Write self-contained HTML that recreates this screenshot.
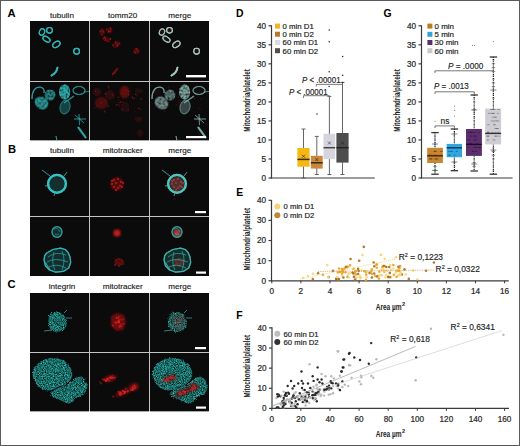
<!DOCTYPE html><html><head><meta charset="utf-8"><style>html,body{margin:0;padding:0;background:#fff;width:520px;height:446px;overflow:hidden}svg text{white-space:pre}.frame{position:absolute;left:0;top:0;width:518px;height:444px;border:1px solid #5a5a5a}</style></head><body><svg width="520" height="446" viewBox="0 0 520 446" style="display:block">
<defs>
<filter id="bl1" x="-50%" y="-50%" width="200%" height="200%"><feGaussianBlur stdDeviation="0.6"/></filter>
<filter id="bl2" x="-50%" y="-50%" width="200%" height="200%"><feGaussianBlur stdDeviation="1.2"/></filter>
<filter id="bl3" x="-50%" y="-50%" width="200%" height="200%"><feGaussianBlur stdDeviation="2"/></filter>
<filter id="tex2" x="-20%" y="-20%" width="140%" height="140%" color-interpolation-filters="sRGB"><feTurbulence type="fractalNoise" baseFrequency="0.5" numOctaves="2" seed="8" result="n"/><feColorMatrix in="n" type="matrix" values="0 0 0 0 0  0 0 0 0 0  0 0 0 0 0  1.6 0 0 0 -0.2" result="m"/><feComposite in="SourceGraphic" in2="m" operator="in"/></filter>
<filter id="disp" x="-10%" y="-10%" width="120%" height="120%" color-interpolation-filters="sRGB"><feTurbulence type="fractalNoise" baseFrequency="1.1" numOctaves="2" seed="4" result="n"/><feDisplacementMap in="SourceGraphic" in2="n" scale="3.5" xChannelSelector="R" yChannelSelector="G"/></filter>
<filter id="glow" x="-50%" y="-50%" width="200%" height="200%"><feGaussianBlur stdDeviation="0.7" result="b"/><feMerge><feMergeNode in="b"/><feMergeNode in="SourceGraphic"/></feMerge></filter>
<filter id="tex" x="-10%" y="-10%" width="120%" height="120%" color-interpolation-filters="sRGB"><feTurbulence type="fractalNoise" baseFrequency="1.1" numOctaves="2" seed="4" result="n"/><feDisplacementMap in="SourceGraphic" in2="n" scale="3.5" xChannelSelector="R" yChannelSelector="G" result="d"/><feColorMatrix in="n" type="matrix" values="0.32 0 0 0 -0.06  1.18 0 0 0 -0.17  1.14 0 0 0 -0.17  0 0 0 0 1" result="c"/><feComposite in="c" in2="d" operator="in"/></filter>
<clipPath id="c000"><rect x="30" y="21" width="59" height="60"/></clipPath>
<clipPath id="c001"><rect x="90" y="21" width="59" height="60"/></clipPath>
<clipPath id="c002"><rect x="150" y="21" width="59" height="60"/></clipPath>
<clipPath id="c010"><rect x="30" y="82" width="59" height="58.3"/></clipPath>
<clipPath id="c011"><rect x="90" y="82" width="59" height="58.3"/></clipPath>
<clipPath id="c012"><rect x="150" y="82" width="59" height="58.3"/></clipPath>
<clipPath id="c100"><rect x="30" y="157" width="59" height="59"/></clipPath>
<clipPath id="c101"><rect x="90" y="157" width="59" height="59"/></clipPath>
<clipPath id="c102"><rect x="150" y="157" width="59" height="59"/></clipPath>
<clipPath id="c110"><rect x="30" y="217" width="59" height="59"/></clipPath>
<clipPath id="c111"><rect x="90" y="217" width="59" height="59"/></clipPath>
<clipPath id="c112"><rect x="150" y="217" width="59" height="59"/></clipPath>
<clipPath id="c200"><rect x="30" y="293" width="59" height="59"/></clipPath>
<clipPath id="c201"><rect x="90" y="293" width="59" height="59"/></clipPath>
<clipPath id="c202"><rect x="150" y="293" width="59" height="59"/></clipPath>
<clipPath id="c210"><rect x="30" y="353" width="59" height="58.3"/></clipPath>
<clipPath id="c211"><rect x="90" y="353" width="59" height="58.3"/></clipPath>
<clipPath id="c212"><rect x="150" y="353" width="59" height="58.3"/></clipPath>
</defs>
<rect x="0" y="0" width="520" height="446" fill="#fff"/>
<rect x="30" y="21" width="179" height="119.30000000000001" fill="#c4c4c4"/>
<rect x="30" y="21" width="59" height="60" fill="#0b0b0c"/>
<rect x="90" y="21" width="59" height="60" fill="#0b0b0c"/>
<rect x="150" y="21" width="59" height="60" fill="#0b0b0c"/>
<rect x="30" y="82" width="59" height="58.3" fill="#0b0b0c"/>
<rect x="90" y="82" width="59" height="58.3" fill="#0b0b0c"/>
<rect x="150" y="82" width="59" height="58.3" fill="#0b0b0c"/>
<g clip-path="url(#c000)"><g filter="url(#glow)"><ellipse cx="42" cy="32" rx="2.6" ry="3.3" transform="rotate(20 42 32)" fill="none" stroke="#30b4b4" stroke-width="1.15"/><ellipse cx="49.5" cy="30.3" rx="2.9" ry="2.8" transform="rotate(0 49.5 30.3)" fill="none" stroke="#30b4b4" stroke-width="1.15"/><ellipse cx="46.5" cy="39.2" rx="4.0" ry="2.3" transform="rotate(35 46.5 39.2)" fill="none" stroke="#30b4b4" stroke-width="1.15"/><ellipse cx="56.4" cy="44.4" rx="4.1" ry="2.6" transform="rotate(-35 56.4 44.4)" fill="none" stroke="#30b4b4" stroke-width="1.15"/><ellipse cx="76.6" cy="51.2" rx="2.9" ry="2.9" transform="rotate(0 76.6 51.2)" fill="none" stroke="#30b4b4" stroke-width="1.15"/><path d="M57.5,67.5 Q56.5,73 51.5,75.5" fill="none" stroke="#30b4b4" stroke-width="1.7" stroke-linecap="round"/></g></g>
<g clip-path="url(#c001)"><g filter="url(#glow)"><ellipse cx="102" cy="32" rx="2.9" ry="3.5999999999999996" transform="rotate(20 102 32)" fill="#3a0909" filter="url(#bl1)"/><circle cx="103.0" cy="32.1" r="0.8" fill="#a41818" fill-opacity="0.70"/><circle cx="101.6" cy="30.8" r="0.8" fill="#a41818" fill-opacity="0.56"/><circle cx="102.2" cy="34.7" r="0.8" fill="#a41818" fill-opacity="0.57"/><circle cx="101.9" cy="29.5" r="0.8" fill="#a41818" fill-opacity="0.57"/><circle cx="100.4" cy="31.6" r="0.8" fill="#a41818" fill-opacity="0.71"/><circle cx="102.9" cy="32.0" r="0.8" fill="#a41818" fill-opacity="0.51"/><circle cx="103.4" cy="31.3" r="0.8" fill="#a41818" fill-opacity="0.60"/><ellipse cx="109.5" cy="30.3" rx="3.1999999999999997" ry="3.0999999999999996" transform="rotate(0 109.5 30.3)" fill="#3a0909" filter="url(#bl1)"/><circle cx="108.7" cy="31.7" r="0.8" fill="#a41818" fill-opacity="0.98"/><circle cx="109.8" cy="31.5" r="0.8" fill="#a41818" fill-opacity="0.79"/><circle cx="106.8" cy="29.5" r="0.8" fill="#a41818" fill-opacity="0.92"/><circle cx="108.7" cy="31.3" r="0.8" fill="#a41818" fill-opacity="0.92"/><circle cx="110.4" cy="30.2" r="0.8" fill="#a41818" fill-opacity="0.87"/><circle cx="111.0" cy="28.7" r="0.8" fill="#a41818" fill-opacity="0.61"/><circle cx="110.2" cy="28.1" r="0.8" fill="#a41818" fill-opacity="0.60"/><ellipse cx="106.5" cy="39.2" rx="4.3" ry="2.5999999999999996" transform="rotate(35 106.5 39.2)" fill="#3a0909" filter="url(#bl1)"/><circle cx="105.4" cy="38.4" r="0.8" fill="#a41818" fill-opacity="0.52"/><circle cx="105.4" cy="40.3" r="0.8" fill="#a41818" fill-opacity="0.70"/><circle cx="104.4" cy="37.6" r="0.8" fill="#a41818" fill-opacity="0.98"/><circle cx="110.4" cy="38.9" r="0.8" fill="#a41818" fill-opacity="0.89"/><circle cx="105.9" cy="40.1" r="0.8" fill="#a41818" fill-opacity="0.81"/><circle cx="103.5" cy="38.7" r="0.8" fill="#a41818" fill-opacity="0.55"/><circle cx="107.8" cy="41.2" r="0.8" fill="#a41818" fill-opacity="0.80"/><ellipse cx="116.4" cy="44.4" rx="4.3999999999999995" ry="2.9" transform="rotate(-35 116.4 44.4)" fill="#3a0909" filter="url(#bl1)"/><circle cx="115.9" cy="43.5" r="0.8" fill="#a41818" fill-opacity="0.70"/><circle cx="119.0" cy="43.3" r="0.8" fill="#a41818" fill-opacity="1.00"/><circle cx="117.2" cy="45.9" r="0.8" fill="#a41818" fill-opacity="0.90"/><circle cx="113.1" cy="45.2" r="0.8" fill="#a41818" fill-opacity="0.78"/><circle cx="117.5" cy="45.0" r="0.8" fill="#a41818" fill-opacity="0.99"/><circle cx="117.7" cy="45.2" r="0.8" fill="#a41818" fill-opacity="0.67"/><circle cx="115.6" cy="42.1" r="0.8" fill="#a41818" fill-opacity="0.74"/><ellipse cx="136.6" cy="51.2" rx="3.1999999999999997" ry="3.1999999999999997" transform="rotate(0 136.6 51.2)" fill="#3a0909" filter="url(#bl1)"/><circle cx="134.1" cy="51.2" r="0.8" fill="#a41818" fill-opacity="0.64"/><circle cx="135.1" cy="52.7" r="0.8" fill="#a41818" fill-opacity="0.82"/><circle cx="137.7" cy="51.5" r="0.8" fill="#a41818" fill-opacity="0.57"/><circle cx="136.2" cy="49.0" r="0.8" fill="#a41818" fill-opacity="0.99"/><circle cx="136.8" cy="49.8" r="0.8" fill="#a41818" fill-opacity="0.88"/><circle cx="138.2" cy="51.1" r="0.8" fill="#a41818" fill-opacity="0.51"/><circle cx="135.6" cy="52.2" r="0.8" fill="#a41818" fill-opacity="0.59"/><path d="M117.5,68 Q116,73 112,75" fill="none" stroke="#3a0909" stroke-width="2.6" filter="url(#bl1)"/><circle cx="117.0" cy="69.0" r="0.8" fill="#a41818"/><circle cx="115.6" cy="70.6" r="0.8" fill="#a41818"/><circle cx="114.2" cy="72.2" r="0.8" fill="#a41818"/><circle cx="112.8" cy="73.8" r="0.8" fill="#a41818"/></g></g>
<g clip-path="url(#c002)"><g opacity="0.45"><g filter="url(#glow)"><ellipse cx="162" cy="32" rx="2.9" ry="3.5999999999999996" transform="rotate(20 162 32)" fill="#3a0909" filter="url(#bl1)"/><circle cx="163.0" cy="32.1" r="0.8" fill="#a41818" fill-opacity="0.70"/><circle cx="161.6" cy="30.8" r="0.8" fill="#a41818" fill-opacity="0.56"/><circle cx="162.2" cy="34.7" r="0.8" fill="#a41818" fill-opacity="0.57"/><circle cx="161.9" cy="29.5" r="0.8" fill="#a41818" fill-opacity="0.57"/><circle cx="160.4" cy="31.6" r="0.8" fill="#a41818" fill-opacity="0.71"/><circle cx="162.9" cy="32.0" r="0.8" fill="#a41818" fill-opacity="0.51"/><circle cx="163.4" cy="31.3" r="0.8" fill="#a41818" fill-opacity="0.60"/><ellipse cx="169.5" cy="30.3" rx="3.1999999999999997" ry="3.0999999999999996" transform="rotate(0 169.5 30.3)" fill="#3a0909" filter="url(#bl1)"/><circle cx="168.7" cy="31.7" r="0.8" fill="#a41818" fill-opacity="0.98"/><circle cx="169.8" cy="31.5" r="0.8" fill="#a41818" fill-opacity="0.79"/><circle cx="166.8" cy="29.5" r="0.8" fill="#a41818" fill-opacity="0.92"/><circle cx="168.7" cy="31.3" r="0.8" fill="#a41818" fill-opacity="0.92"/><circle cx="170.4" cy="30.2" r="0.8" fill="#a41818" fill-opacity="0.87"/><circle cx="171.0" cy="28.7" r="0.8" fill="#a41818" fill-opacity="0.61"/><circle cx="170.2" cy="28.1" r="0.8" fill="#a41818" fill-opacity="0.60"/><ellipse cx="166.5" cy="39.2" rx="4.3" ry="2.5999999999999996" transform="rotate(35 166.5 39.2)" fill="#3a0909" filter="url(#bl1)"/><circle cx="165.4" cy="38.4" r="0.8" fill="#a41818" fill-opacity="0.52"/><circle cx="165.4" cy="40.3" r="0.8" fill="#a41818" fill-opacity="0.70"/><circle cx="164.4" cy="37.6" r="0.8" fill="#a41818" fill-opacity="0.98"/><circle cx="170.4" cy="38.9" r="0.8" fill="#a41818" fill-opacity="0.89"/><circle cx="165.9" cy="40.1" r="0.8" fill="#a41818" fill-opacity="0.81"/><circle cx="163.5" cy="38.7" r="0.8" fill="#a41818" fill-opacity="0.55"/><circle cx="167.8" cy="41.2" r="0.8" fill="#a41818" fill-opacity="0.80"/><ellipse cx="176.4" cy="44.4" rx="4.3999999999999995" ry="2.9" transform="rotate(-35 176.4 44.4)" fill="#3a0909" filter="url(#bl1)"/><circle cx="175.9" cy="43.5" r="0.8" fill="#a41818" fill-opacity="0.70"/><circle cx="179.0" cy="43.3" r="0.8" fill="#a41818" fill-opacity="1.00"/><circle cx="177.2" cy="45.9" r="0.8" fill="#a41818" fill-opacity="0.90"/><circle cx="173.1" cy="45.2" r="0.8" fill="#a41818" fill-opacity="0.78"/><circle cx="177.5" cy="45.0" r="0.8" fill="#a41818" fill-opacity="0.99"/><circle cx="177.7" cy="45.2" r="0.8" fill="#a41818" fill-opacity="0.67"/><circle cx="175.6" cy="42.1" r="0.8" fill="#a41818" fill-opacity="0.74"/><ellipse cx="196.6" cy="51.2" rx="3.1999999999999997" ry="3.1999999999999997" transform="rotate(0 196.6 51.2)" fill="#3a0909" filter="url(#bl1)"/><circle cx="194.1" cy="51.2" r="0.8" fill="#a41818" fill-opacity="0.64"/><circle cx="195.1" cy="52.7" r="0.8" fill="#a41818" fill-opacity="0.82"/><circle cx="197.7" cy="51.5" r="0.8" fill="#a41818" fill-opacity="0.57"/><circle cx="196.2" cy="49.0" r="0.8" fill="#a41818" fill-opacity="0.99"/><circle cx="196.8" cy="49.8" r="0.8" fill="#a41818" fill-opacity="0.88"/><circle cx="198.2" cy="51.1" r="0.8" fill="#a41818" fill-opacity="0.51"/><circle cx="195.6" cy="52.2" r="0.8" fill="#a41818" fill-opacity="0.59"/><path d="M177.5,68 Q176,73 172,75" fill="none" stroke="#3a0909" stroke-width="2.6" filter="url(#bl1)"/><circle cx="177.0" cy="69.0" r="0.8" fill="#a41818"/><circle cx="175.6" cy="70.6" r="0.8" fill="#a41818"/><circle cx="174.2" cy="72.2" r="0.8" fill="#a41818"/><circle cx="172.8" cy="73.8" r="0.8" fill="#a41818"/></g></g><g filter="url(#glow)"><ellipse cx="162" cy="32" rx="2.6" ry="3.3" transform="rotate(20 162 32)" fill="none" stroke="#98c8c0" stroke-width="1.05"/><ellipse cx="169.5" cy="30.3" rx="2.9" ry="2.8" transform="rotate(0 169.5 30.3)" fill="none" stroke="#98c8c0" stroke-width="1.05"/><ellipse cx="166.5" cy="39.2" rx="4.0" ry="2.3" transform="rotate(35 166.5 39.2)" fill="none" stroke="#98c8c0" stroke-width="1.05"/><ellipse cx="176.4" cy="44.4" rx="4.1" ry="2.6" transform="rotate(-35 176.4 44.4)" fill="none" stroke="#98c8c0" stroke-width="1.05"/><ellipse cx="196.6" cy="51.2" rx="2.9" ry="2.9" transform="rotate(0 196.6 51.2)" fill="none" stroke="#98c8c0" stroke-width="1.05"/><path d="M177.5,67.5 Q176.5,73 171.5,75.5" fill="none" stroke="#98c8c0" stroke-width="1.7" stroke-linecap="round"/></g></g>
<rect x="186" y="75" width="20" height="2.4" fill="#fff"/>
<g clip-path="url(#c010)"><g filter="url(#glow)"><ellipse cx="41.5" cy="103" rx="7.2" ry="6" transform="rotate(40 41.5 103)" fill="#30b0b0" fill-opacity="0.75" filter="url(#tex2)"/><path d="M32,99 Q32,87 40,87 Q45,88 44,93" fill="none" stroke="#30b0b0" stroke-width="1.2" stroke-opacity="0.6"/><ellipse cx="50" cy="95" rx="5.4" ry="5.6" fill="#30b0b0" fill-opacity="0.6000000000000001" filter="url(#tex2)"/><ellipse cx="64.6" cy="92" rx="5.6" ry="7.4" fill="#30b0b0" fill-opacity="0.95" filter="url(#tex2)"/><ellipse cx="65" cy="107" rx="5" ry="7" transform="rotate(15 65 107)" fill="#30b0b0" fill-opacity="0.18" stroke="#30b0b0" stroke-opacity="0.35" stroke-width="1"/><path d="M64,103 L74,96" stroke="#30b0b0" stroke-opacity="0.55" stroke-width="1.1"/><ellipse cx="79" cy="90.5" rx="6" ry="4" fill="none" stroke="#30b0b0" stroke-opacity="0.55" stroke-width="1.1"/><path d="M84,92 L89,91.5" stroke="#30b0b0" stroke-opacity="0.5" stroke-width="0.8"/><path d="M74,119 L86,119 M79,114 L79.5,125 M75,115 L84,123" stroke="#30b0b0" stroke-opacity="0.45" stroke-width="1"/><path d="M78,127 L86,138" stroke="#30b0b0" stroke-opacity="0.7" stroke-width="2"/><path d="M56,136 L57,141" stroke="#30b0b0" stroke-opacity="0.6" stroke-width="1"/></g></g>
<g clip-path="url(#c011)"><g opacity="1.0"><ellipse cx="101.5" cy="103" rx="6.5" ry="6" fill="#4a0e0e" filter="url(#bl2)"/><ellipse cx="110" cy="95" rx="5" ry="5" fill="#2e0a0a" filter="url(#bl2)"/><ellipse cx="124.6" cy="92" rx="5" ry="6.5" fill="#5a0e0e" filter="url(#bl2)"/><ellipse cx="97" cy="92" rx="4" ry="4" fill="#300a0a" filter="url(#bl2)"/><ellipse cx="125" cy="107" rx="4.5" ry="6" fill="#240808" filter="url(#bl2)"/><ellipse cx="138.5" cy="119.3" rx="4" ry="3" fill="#2a0a0a" filter="url(#bl2)"/><ellipse cx="140" cy="133" rx="3" ry="4" fill="#280808" filter="url(#bl2)"/><ellipse cx="139" cy="91" rx="4" ry="3" fill="#240808" filter="url(#bl2)"/><circle cx="105.4" cy="100.1" r="0.8" fill="#b01818" fill-opacity="0.38"/><circle cx="123.0" cy="102.3" r="0.8" fill="#b01818" fill-opacity="0.23"/><circle cx="94.6" cy="107.8" r="0.8" fill="#b01818" fill-opacity="0.33"/><circle cx="105.2" cy="111.9" r="0.8" fill="#b01818" fill-opacity="0.44"/><circle cx="134.2" cy="98.4" r="0.8" fill="#b01818" fill-opacity="0.52"/><circle cx="101.2" cy="102.5" r="0.8" fill="#b01818" fill-opacity="0.63"/><circle cx="119.1" cy="105.3" r="0.8" fill="#b01818" fill-opacity="0.54"/><circle cx="97.1" cy="105.7" r="0.8" fill="#b01818" fill-opacity="0.50"/><circle cx="108.5" cy="86.8" r="0.8" fill="#b01818" fill-opacity="0.63"/><circle cx="116.7" cy="104.7" r="0.8" fill="#b01818" fill-opacity="0.64"/><circle cx="128.3" cy="109.9" r="0.8" fill="#b01818" fill-opacity="0.40"/><circle cx="132.4" cy="97.6" r="0.8" fill="#b01818" fill-opacity="0.67"/><circle cx="136.2" cy="88.5" r="0.8" fill="#b01818" fill-opacity="0.27"/><circle cx="104.4" cy="111.1" r="0.8" fill="#b01818" fill-opacity="0.42"/><circle cx="124.1" cy="93.8" r="0.8" fill="#b01818" fill-opacity="0.45"/><circle cx="112.5" cy="95.1" r="0.8" fill="#b01818" fill-opacity="0.49"/><circle cx="122.0" cy="109.5" r="0.8" fill="#b01818" fill-opacity="0.54"/><circle cx="138.6" cy="108.3" r="0.8" fill="#b01818" fill-opacity="0.70"/><circle cx="126.2" cy="90.2" r="0.8" fill="#b01818" fill-opacity="0.63"/><circle cx="140.3" cy="109.5" r="0.8" fill="#b01818" fill-opacity="0.48"/><circle cx="128.3" cy="91.5" r="0.8" fill="#b01818" fill-opacity="0.62"/><circle cx="121.5" cy="93.4" r="0.8" fill="#b01818" fill-opacity="0.23"/><circle cx="135.0" cy="111.7" r="0.8" fill="#b01818" fill-opacity="0.24"/><circle cx="132.4" cy="96.7" r="0.8" fill="#b01818" fill-opacity="0.28"/><circle cx="108.1" cy="106.0" r="0.8" fill="#b01818" fill-opacity="0.64"/><circle cx="96.1" cy="102.0" r="0.8" fill="#b01818" fill-opacity="0.22"/><circle cx="128.5" cy="94.6" r="0.8" fill="#b01818" fill-opacity="0.64"/><circle cx="141.1" cy="99.1" r="0.8" fill="#b01818" fill-opacity="0.70"/><circle cx="108.9" cy="88.0" r="0.8" fill="#b01818" fill-opacity="0.50"/><circle cx="95.5" cy="91.1" r="0.8" fill="#b01818" fill-opacity="0.40"/><circle cx="123.3" cy="90.1" r="0.8" fill="#b01818" fill-opacity="0.22"/><circle cx="135.7" cy="94.2" r="0.8" fill="#b01818" fill-opacity="0.68"/><circle cx="137.0" cy="95.8" r="0.8" fill="#b01818" fill-opacity="0.43"/><circle cx="119.0" cy="102.7" r="0.8" fill="#b01818" fill-opacity="0.50"/><circle cx="120.8" cy="102.1" r="0.8" fill="#b01818" fill-opacity="0.67"/><circle cx="118.3" cy="97.2" r="0.8" fill="#b01818" fill-opacity="0.56"/><circle cx="105.4" cy="93.8" r="0.8" fill="#b01818" fill-opacity="0.69"/><circle cx="119.0" cy="100.3" r="0.8" fill="#b01818" fill-opacity="0.21"/><circle cx="113.9" cy="101.1" r="0.8" fill="#b01818" fill-opacity="0.21"/><circle cx="123.6" cy="102.4" r="0.8" fill="#b01818" fill-opacity="0.23"/></g></g>
<g clip-path="url(#c012)"><g transform="translate(60 0)"><g opacity="0.5"><ellipse cx="101.5" cy="103" rx="6.5" ry="6" fill="#4a0e0e" filter="url(#bl2)"/><ellipse cx="110" cy="95" rx="5" ry="5" fill="#2e0a0a" filter="url(#bl2)"/><ellipse cx="124.6" cy="92" rx="5" ry="6.5" fill="#5a0e0e" filter="url(#bl2)"/><ellipse cx="97" cy="92" rx="4" ry="4" fill="#300a0a" filter="url(#bl2)"/><ellipse cx="125" cy="107" rx="4.5" ry="6" fill="#240808" filter="url(#bl2)"/><ellipse cx="138.5" cy="119.3" rx="4" ry="3" fill="#2a0a0a" filter="url(#bl2)"/><ellipse cx="140" cy="133" rx="3" ry="4" fill="#280808" filter="url(#bl2)"/><ellipse cx="139" cy="91" rx="4" ry="3" fill="#240808" filter="url(#bl2)"/><circle cx="105.4" cy="100.1" r="0.8" fill="#b01818" fill-opacity="0.38"/><circle cx="123.0" cy="102.3" r="0.8" fill="#b01818" fill-opacity="0.23"/><circle cx="94.6" cy="107.8" r="0.8" fill="#b01818" fill-opacity="0.33"/><circle cx="105.2" cy="111.9" r="0.8" fill="#b01818" fill-opacity="0.44"/><circle cx="134.2" cy="98.4" r="0.8" fill="#b01818" fill-opacity="0.52"/><circle cx="101.2" cy="102.5" r="0.8" fill="#b01818" fill-opacity="0.63"/><circle cx="119.1" cy="105.3" r="0.8" fill="#b01818" fill-opacity="0.54"/><circle cx="97.1" cy="105.7" r="0.8" fill="#b01818" fill-opacity="0.50"/><circle cx="108.5" cy="86.8" r="0.8" fill="#b01818" fill-opacity="0.63"/><circle cx="116.7" cy="104.7" r="0.8" fill="#b01818" fill-opacity="0.64"/><circle cx="128.3" cy="109.9" r="0.8" fill="#b01818" fill-opacity="0.40"/><circle cx="132.4" cy="97.6" r="0.8" fill="#b01818" fill-opacity="0.67"/><circle cx="136.2" cy="88.5" r="0.8" fill="#b01818" fill-opacity="0.27"/><circle cx="104.4" cy="111.1" r="0.8" fill="#b01818" fill-opacity="0.42"/><circle cx="124.1" cy="93.8" r="0.8" fill="#b01818" fill-opacity="0.45"/><circle cx="112.5" cy="95.1" r="0.8" fill="#b01818" fill-opacity="0.49"/><circle cx="122.0" cy="109.5" r="0.8" fill="#b01818" fill-opacity="0.54"/><circle cx="138.6" cy="108.3" r="0.8" fill="#b01818" fill-opacity="0.70"/><circle cx="126.2" cy="90.2" r="0.8" fill="#b01818" fill-opacity="0.63"/><circle cx="140.3" cy="109.5" r="0.8" fill="#b01818" fill-opacity="0.48"/><circle cx="128.3" cy="91.5" r="0.8" fill="#b01818" fill-opacity="0.62"/><circle cx="121.5" cy="93.4" r="0.8" fill="#b01818" fill-opacity="0.23"/><circle cx="135.0" cy="111.7" r="0.8" fill="#b01818" fill-opacity="0.24"/><circle cx="132.4" cy="96.7" r="0.8" fill="#b01818" fill-opacity="0.28"/><circle cx="108.1" cy="106.0" r="0.8" fill="#b01818" fill-opacity="0.64"/><circle cx="96.1" cy="102.0" r="0.8" fill="#b01818" fill-opacity="0.22"/><circle cx="128.5" cy="94.6" r="0.8" fill="#b01818" fill-opacity="0.64"/><circle cx="141.1" cy="99.1" r="0.8" fill="#b01818" fill-opacity="0.70"/><circle cx="108.9" cy="88.0" r="0.8" fill="#b01818" fill-opacity="0.50"/><circle cx="95.5" cy="91.1" r="0.8" fill="#b01818" fill-opacity="0.40"/><circle cx="123.3" cy="90.1" r="0.8" fill="#b01818" fill-opacity="0.22"/><circle cx="135.7" cy="94.2" r="0.8" fill="#b01818" fill-opacity="0.68"/><circle cx="137.0" cy="95.8" r="0.8" fill="#b01818" fill-opacity="0.43"/><circle cx="119.0" cy="102.7" r="0.8" fill="#b01818" fill-opacity="0.50"/><circle cx="120.8" cy="102.1" r="0.8" fill="#b01818" fill-opacity="0.67"/><circle cx="118.3" cy="97.2" r="0.8" fill="#b01818" fill-opacity="0.56"/><circle cx="105.4" cy="93.8" r="0.8" fill="#b01818" fill-opacity="0.69"/><circle cx="119.0" cy="100.3" r="0.8" fill="#b01818" fill-opacity="0.21"/><circle cx="113.9" cy="101.1" r="0.8" fill="#b01818" fill-opacity="0.21"/><circle cx="123.6" cy="102.4" r="0.8" fill="#b01818" fill-opacity="0.23"/></g></g><g filter="url(#glow)"><ellipse cx="161.5" cy="103" rx="7.2" ry="6" transform="rotate(40 161.5 103)" fill="#80beb6" fill-opacity="0.6" filter="url(#tex2)"/><path d="M152,99 Q152,87 160,87 Q165,88 164,93" fill="none" stroke="#80beb6" stroke-width="1.2" stroke-opacity="0.6"/><ellipse cx="170" cy="95" rx="5.4" ry="5.6" fill="#80beb6" fill-opacity="0.48" filter="url(#tex2)"/><ellipse cx="184.6" cy="92" rx="5.6" ry="7.4" fill="#80beb6" fill-opacity="0.75" filter="url(#tex2)"/><ellipse cx="185" cy="107" rx="5" ry="7" transform="rotate(15 185 107)" fill="#80beb6" fill-opacity="0.18" stroke="#80beb6" stroke-opacity="0.35" stroke-width="1"/><path d="M184,103 L194,96" stroke="#80beb6" stroke-opacity="0.55" stroke-width="1.1"/><ellipse cx="199" cy="90.5" rx="6" ry="4" fill="none" stroke="#80beb6" stroke-opacity="0.55" stroke-width="1.1"/><path d="M204,92 L209,91.5" stroke="#80beb6" stroke-opacity="0.5" stroke-width="0.8"/><path d="M194,119 L206,119 M199,114 L199.5,125 M195,115 L204,123" stroke="#80beb6" stroke-opacity="0.45" stroke-width="1"/><path d="M198,127 L206,138" stroke="#80beb6" stroke-opacity="0.7" stroke-width="2"/><path d="M176,136 L177,141" stroke="#80beb6" stroke-opacity="0.6" stroke-width="1"/></g></g>
<rect x="186" y="136" width="20" height="2.2" fill="#fff"/>
<rect x="30" y="157" width="179" height="119" fill="#c4c4c4"/>
<rect x="30" y="157" width="59" height="59" fill="#0b0b0c"/>
<rect x="90" y="157" width="59" height="59" fill="#0b0b0c"/>
<rect x="150" y="157" width="59" height="59" fill="#0b0b0c"/>
<rect x="30" y="217" width="59" height="59" fill="#0b0b0c"/>
<rect x="90" y="217" width="59" height="59" fill="#0b0b0c"/>
<rect x="150" y="217" width="59" height="59" fill="#0b0b0c"/>
<g clip-path="url(#c100)"><g filter="url(#glow)"><circle cx="57" cy="183.8" r="8.9" fill="#38c0c0" fill-opacity="0.1" stroke="#38c0c0" stroke-width="2.1"/><path d="M42,170 L50,176 M64,176 L67,172 M45,186 L48,185.5 M54,196 L55,193" stroke="#38c0c0" stroke-opacity="0.45" stroke-width="1"/></g></g>
<g clip-path="url(#c101)"><g opacity="1.0"><circle cx="117" cy="184" r="7" fill="#4a0808" filter="url(#bl2)"/><circle cx="114" cy="180" r="1.15" fill="#a81616" filter="url(#bl1)"/><circle cx="118" cy="179" r="1.15" fill="#a81616" filter="url(#bl1)"/><circle cx="121" cy="182" r="1.15" fill="#a81616" filter="url(#bl1)"/><circle cx="112" cy="184" r="1.15" fill="#a81616" filter="url(#bl1)"/><circle cx="116" cy="183" r="1.15" fill="#a81616" filter="url(#bl1)"/><circle cx="120" cy="186" r="1.15" fill="#a81616" filter="url(#bl1)"/><circle cx="114" cy="187" r="1.15" fill="#a81616" filter="url(#bl1)"/><circle cx="118" cy="188" r="1.15" fill="#a81616" filter="url(#bl1)"/><circle cx="122" cy="187" r="1.15" fill="#a81616" filter="url(#bl1)"/><circle cx="116" cy="190" r="1.15" fill="#a81616" filter="url(#bl1)"/><circle cx="112" cy="181" r="1.15" fill="#a81616" filter="url(#bl1)"/><circle cx="123" cy="183" r="1.15" fill="#a81616" filter="url(#bl1)"/></g></g>
<g clip-path="url(#c102)"><g opacity="1.0"><circle cx="177" cy="184" r="7" fill="#4a0808" filter="url(#bl2)"/><circle cx="174" cy="180" r="1.15" fill="#a81616" filter="url(#bl1)"/><circle cx="178" cy="179" r="1.15" fill="#a81616" filter="url(#bl1)"/><circle cx="181" cy="182" r="1.15" fill="#a81616" filter="url(#bl1)"/><circle cx="172" cy="184" r="1.15" fill="#a81616" filter="url(#bl1)"/><circle cx="176" cy="183" r="1.15" fill="#a81616" filter="url(#bl1)"/><circle cx="180" cy="186" r="1.15" fill="#a81616" filter="url(#bl1)"/><circle cx="174" cy="187" r="1.15" fill="#a81616" filter="url(#bl1)"/><circle cx="178" cy="188" r="1.15" fill="#a81616" filter="url(#bl1)"/><circle cx="182" cy="187" r="1.15" fill="#a81616" filter="url(#bl1)"/><circle cx="176" cy="190" r="1.15" fill="#a81616" filter="url(#bl1)"/><circle cx="172" cy="181" r="1.15" fill="#a81616" filter="url(#bl1)"/><circle cx="183" cy="183" r="1.15" fill="#a81616" filter="url(#bl1)"/></g><g filter="url(#glow)"><circle cx="177" cy="183.8" r="8.9" fill="#52c2b8" fill-opacity="0.1" stroke="#52c2b8" stroke-width="2.1"/><path d="M162,170 L170,176 M184,176 L187,172 M165,186 L168,185.5 M174,196 L175,193" stroke="#52c2b8" stroke-opacity="0.45" stroke-width="1"/></g></g>
<rect x="195" y="211" width="11" height="2.2" fill="#fff"/>
<g clip-path="url(#c110)"><g filter="url(#glow)"><ellipse cx="57" cy="232" rx="5" ry="5.3" fill="#34b8b8" fill-opacity="0.1" stroke="#34b8b8" stroke-width="1.2" stroke-opacity="0.6"/><path d="M54,229 Q58,227 60,232 M55,234 Q57,236 59,234" fill="none" stroke="#34b8b8" stroke-width="0.8" stroke-opacity="0.4"/><path d="M46.8,252.9 L52.9,249.5 L60.5,248.1 L65.3,249.5 L68.0,252.3 L70.0,257.0 L70.7,262.5 L68.7,268.0 L63.2,271.4 L55.7,272.1 L49.5,270.0 L45.4,265.9 L44.0,259.8 L44.7,255.7 Z" fill="#34b8b8" fill-opacity="0.1" stroke="#34b8b8" stroke-width="1.2" stroke-opacity="0.8" stroke-linejoin="round"/><path d="M48,257 Q56,251 66,255 M47,262 Q55,257 68,262 M49,267 Q57,263 66,268 M54,252 Q51,262 55,270 M62,251 Q66,260 62,270" fill="none" stroke="#34b8b8" stroke-width="0.8" stroke-opacity="0.45"/><path d="M45,262 L50,270" stroke="#34b8b8" stroke-width="1.4" stroke-opacity="0.5"/></g></g>
<g clip-path="url(#c111)"><circle cx="117" cy="233" r="3.6" fill="#c81a1a" filter="url(#bl2)"/><ellipse cx="119" cy="262" rx="5" ry="4" fill="#4a0c0c" filter="url(#bl1)"/><circle cx="116" cy="260" r="1" fill="#701212" filter="url(#bl1)"/><circle cx="119" cy="259" r="1" fill="#701212" filter="url(#bl1)"/><circle cx="122" cy="261" r="1" fill="#701212" filter="url(#bl1)"/><circle cx="117" cy="263" r="1" fill="#701212" filter="url(#bl1)"/><circle cx="120" cy="264" r="1" fill="#701212" filter="url(#bl1)"/><circle cx="123" cy="264" r="1" fill="#701212" filter="url(#bl1)"/><circle cx="115" cy="265" r="1" fill="#701212" filter="url(#bl1)"/><circle cx="119" cy="266" r="1" fill="#701212" filter="url(#bl1)"/></g>
<g clip-path="url(#c112)"><circle cx="177" cy="233" r="3.6" fill="#c81a1a" filter="url(#bl2)"/><ellipse cx="179" cy="262" rx="5" ry="4" fill="#4a0c0c" filter="url(#bl1)"/><circle cx="176" cy="260" r="1" fill="#701212" filter="url(#bl1)"/><circle cx="179" cy="259" r="1" fill="#701212" filter="url(#bl1)"/><circle cx="182" cy="261" r="1" fill="#701212" filter="url(#bl1)"/><circle cx="177" cy="263" r="1" fill="#701212" filter="url(#bl1)"/><circle cx="180" cy="264" r="1" fill="#701212" filter="url(#bl1)"/><circle cx="183" cy="264" r="1" fill="#701212" filter="url(#bl1)"/><circle cx="175" cy="265" r="1" fill="#701212" filter="url(#bl1)"/><circle cx="179" cy="266" r="1" fill="#701212" filter="url(#bl1)"/><g filter="url(#glow)"><ellipse cx="177" cy="232" rx="5" ry="5.3" fill="#40b8b0" fill-opacity="0.1" stroke="#40b8b0" stroke-width="1.2" stroke-opacity="0.6"/><path d="M174,229 Q178,227 180,232 M175,234 Q177,236 179,234" fill="none" stroke="#40b8b0" stroke-width="0.8" stroke-opacity="0.4"/><path d="M166.8,252.9 L172.9,249.5 L180.5,248.1 L185.3,249.5 L188.0,252.3 L190.0,257.0 L190.7,262.5 L188.7,268.0 L183.2,271.4 L175.7,272.1 L169.5,270.0 L165.4,265.9 L164.0,259.8 L164.7,255.7 Z" fill="#40b8b0" fill-opacity="0.1" stroke="#40b8b0" stroke-width="1.2" stroke-opacity="0.8" stroke-linejoin="round"/><path d="M168,257 Q176,251 186,255 M167,262 Q175,257 188,262 M169,267 Q177,263 186,268 M174,252 Q171,262 175,270 M182,251 Q186,260 182,270" fill="none" stroke="#40b8b0" stroke-width="0.8" stroke-opacity="0.45"/><path d="M165,262 L170,270" stroke="#40b8b0" stroke-width="1.4" stroke-opacity="0.5"/></g></g>
<rect x="196" y="271.5" width="10" height="2.2" fill="#fff"/>
<rect x="30" y="293" width="179" height="118.30000000000001" fill="#c4c4c4"/>
<rect x="30" y="293" width="59" height="59" fill="#0b0b0c"/>
<rect x="90" y="293" width="59" height="59" fill="#0b0b0c"/>
<rect x="150" y="293" width="59" height="59" fill="#0b0b0c"/>
<rect x="30" y="353" width="59" height="58.3" fill="#0b0b0c"/>
<rect x="90" y="353" width="59" height="58.3" fill="#0b0b0c"/>
<rect x="150" y="353" width="59" height="58.3" fill="#0b0b0c"/>
<g clip-path="url(#c200)"><g opacity="1.0"><path d="M49.0,316.0 L53.0,312.0 L59.0,312.0 L64.0,315.0 L67.0,321.0 L66.0,328.0 L62.0,331.0 L56.0,332.0 L51.0,330.0 L48.0,325.0 Z" fill="#1a7474" filter="url(#tex)"/><path d="M44,331 L52,330 M66,318 L72,318 M64,313 L67,310" stroke="#5ab8b8" stroke-width="0.9" stroke-opacity="0.7"/></g></g>
<g clip-path="url(#c201)"><g opacity="1.0"><path d="M111,316 L117,313 L124,315 L126,323 L123,330 L116,331 L111,326 Z" fill="#6a0c0c" filter="url(#bl2)"/><circle cx="120.8" cy="325.9" r="0.92" fill="#d42020" fill-opacity="0.64" filter="url(#bl1)"/><circle cx="119.6" cy="327.0" r="1.00" fill="#d42020" fill-opacity="0.66" filter="url(#bl1)"/><circle cx="117.0" cy="322.0" r="0.60" fill="#d42020" fill-opacity="0.59" filter="url(#bl1)"/><circle cx="118.1" cy="321.8" r="1.00" fill="#d42020" fill-opacity="0.52" filter="url(#bl1)"/><circle cx="118.5" cy="322.3" r="1.10" fill="#d42020" fill-opacity="0.77" filter="url(#bl1)"/><circle cx="121.3" cy="319.2" r="0.62" fill="#d42020" fill-opacity="0.56" filter="url(#bl1)"/><circle cx="117.7" cy="322.0" r="1.08" fill="#d42020" fill-opacity="0.58" filter="url(#bl1)"/><circle cx="121.5" cy="326.4" r="0.66" fill="#d42020" fill-opacity="0.86" filter="url(#bl1)"/><circle cx="115.1" cy="323.0" r="0.77" fill="#d42020" fill-opacity="0.64" filter="url(#bl1)"/><circle cx="118.6" cy="322.2" r="1.03" fill="#d42020" fill-opacity="0.52" filter="url(#bl1)"/><circle cx="118.8" cy="320.7" r="1.08" fill="#d42020" fill-opacity="0.85" filter="url(#bl1)"/><circle cx="118.6" cy="317.0" r="0.89" fill="#d42020" fill-opacity="0.76" filter="url(#bl1)"/><circle cx="120.7" cy="324.2" r="1.01" fill="#d42020" fill-opacity="0.50" filter="url(#bl1)"/><circle cx="123.6" cy="319.3" r="0.80" fill="#d42020" fill-opacity="0.58" filter="url(#bl1)"/><circle cx="116.1" cy="322.8" r="1.10" fill="#d42020" fill-opacity="0.59" filter="url(#bl1)"/><circle cx="119.1" cy="322.1" r="0.96" fill="#d42020" fill-opacity="0.90" filter="url(#bl1)"/><circle cx="115.3" cy="322.1" r="0.88" fill="#d42020" fill-opacity="0.77" filter="url(#bl1)"/><circle cx="119.2" cy="325.9" r="0.88" fill="#d42020" fill-opacity="0.71" filter="url(#bl1)"/><circle cx="119.0" cy="323.0" r="0.77" fill="#d42020" fill-opacity="0.86" filter="url(#bl1)"/><circle cx="116.3" cy="325.2" r="0.75" fill="#d42020" fill-opacity="0.45" filter="url(#bl1)"/><circle cx="123.3" cy="324.1" r="0.99" fill="#d42020" fill-opacity="0.59" filter="url(#bl1)"/><circle cx="116.7" cy="318.0" r="1.05" fill="#d42020" fill-opacity="0.88" filter="url(#bl1)"/><circle cx="113.1" cy="325.5" r="1.08" fill="#d42020" fill-opacity="0.70" filter="url(#bl1)"/><circle cx="120.9" cy="319.9" r="0.79" fill="#d42020" fill-opacity="0.52" filter="url(#bl1)"/><circle cx="119.3" cy="321.3" r="0.63" fill="#d42020" fill-opacity="0.80" filter="url(#bl1)"/><circle cx="119.0" cy="318.9" r="1.02" fill="#d42020" fill-opacity="0.43" filter="url(#bl1)"/></g></g>
<g clip-path="url(#c202)"><g opacity="1.0"><path d="M169.0,316.0 L173.0,312.0 L179.0,312.0 L184.0,315.0 L187.0,321.0 L186.0,328.0 L182.0,331.0 L176.0,332.0 L171.0,330.0 L168.0,325.0 Z" fill="#3a7a78" filter="url(#tex)"/><path d="M164,331 L172,330 M186,318 L192,318 M184,313 L187,310" stroke="#5ab8b8" stroke-width="0.9" stroke-opacity="0.7"/></g><g opacity="0.3"><path d="M171,316 L177,313 L184,315 L186,323 L183,330 L176,331 L171,326 Z" fill="#6a0c0c" filter="url(#bl2)"/><circle cx="180.8" cy="325.9" r="0.92" fill="#d42020" fill-opacity="0.64" filter="url(#bl1)"/><circle cx="179.6" cy="327.0" r="1.00" fill="#d42020" fill-opacity="0.66" filter="url(#bl1)"/><circle cx="177.0" cy="322.0" r="0.60" fill="#d42020" fill-opacity="0.59" filter="url(#bl1)"/><circle cx="178.1" cy="321.8" r="1.00" fill="#d42020" fill-opacity="0.52" filter="url(#bl1)"/><circle cx="178.5" cy="322.3" r="1.10" fill="#d42020" fill-opacity="0.77" filter="url(#bl1)"/><circle cx="181.3" cy="319.2" r="0.62" fill="#d42020" fill-opacity="0.56" filter="url(#bl1)"/><circle cx="177.7" cy="322.0" r="1.08" fill="#d42020" fill-opacity="0.58" filter="url(#bl1)"/><circle cx="181.5" cy="326.4" r="0.66" fill="#d42020" fill-opacity="0.86" filter="url(#bl1)"/><circle cx="175.1" cy="323.0" r="0.77" fill="#d42020" fill-opacity="0.64" filter="url(#bl1)"/><circle cx="178.6" cy="322.2" r="1.03" fill="#d42020" fill-opacity="0.52" filter="url(#bl1)"/><circle cx="178.8" cy="320.7" r="1.08" fill="#d42020" fill-opacity="0.85" filter="url(#bl1)"/><circle cx="178.6" cy="317.0" r="0.89" fill="#d42020" fill-opacity="0.76" filter="url(#bl1)"/><circle cx="180.7" cy="324.2" r="1.01" fill="#d42020" fill-opacity="0.50" filter="url(#bl1)"/><circle cx="183.6" cy="319.3" r="0.80" fill="#d42020" fill-opacity="0.58" filter="url(#bl1)"/><circle cx="176.1" cy="322.8" r="1.10" fill="#d42020" fill-opacity="0.59" filter="url(#bl1)"/><circle cx="179.1" cy="322.1" r="0.96" fill="#d42020" fill-opacity="0.90" filter="url(#bl1)"/><circle cx="175.3" cy="322.1" r="0.88" fill="#d42020" fill-opacity="0.77" filter="url(#bl1)"/><circle cx="179.2" cy="325.9" r="0.88" fill="#d42020" fill-opacity="0.71" filter="url(#bl1)"/><circle cx="179.0" cy="323.0" r="0.77" fill="#d42020" fill-opacity="0.86" filter="url(#bl1)"/><circle cx="176.3" cy="325.2" r="0.75" fill="#d42020" fill-opacity="0.45" filter="url(#bl1)"/><circle cx="183.3" cy="324.1" r="0.99" fill="#d42020" fill-opacity="0.59" filter="url(#bl1)"/><circle cx="176.7" cy="318.0" r="1.05" fill="#d42020" fill-opacity="0.88" filter="url(#bl1)"/><circle cx="173.1" cy="325.5" r="1.08" fill="#d42020" fill-opacity="0.70" filter="url(#bl1)"/><circle cx="180.9" cy="319.9" r="0.79" fill="#d42020" fill-opacity="0.52" filter="url(#bl1)"/><circle cx="179.3" cy="321.3" r="0.63" fill="#d42020" fill-opacity="0.80" filter="url(#bl1)"/><circle cx="179.0" cy="318.9" r="1.02" fill="#d42020" fill-opacity="0.43" filter="url(#bl1)"/></g></g>
<rect x="195" y="347" width="11" height="2.2" fill="#fff"/>
<g clip-path="url(#c210)"><path d="M46.9,359.5 L50.5,358.2 L54.2,358.7 L58.0,359.0 L61.4,360.2 L64.5,361.5 L67.3,363.8 L69.5,366.5 L70.9,369.7 L71.8,373.0 L71.6,376.2 L70.5,379.0 L68.7,381.3 L66.5,383.5 L64.4,385.0 L61.8,385.2 L59.3,385.7 L56.8,387.5 L54.2,388.6 L51.2,389.6 L48.3,390.1 L45.3,389.6 L42.5,388.6 L39.8,387.0 L37.4,385.0 L35.6,382.3 L34.5,379.2 L33.2,376.2 L33.0,373.3 L33.4,370.3 L34.5,367.5 L36.8,364.7 L39.6,362.4 L43.0,360.5 Z" fill="#1a6e6e" filter="url(#tex)"/><path d="M46.9,359.5 L50.5,358.2 L54.2,358.7 L58.0,359.0 L61.4,360.2 L64.5,361.5 L67.3,363.8 L69.5,366.5 L70.9,369.7 L71.8,373.0 L71.6,376.2 L70.5,379.0 L68.7,381.3 L66.5,383.5 L64.4,385.0 L61.8,385.2 L59.3,385.7 L56.8,387.5 L54.2,388.6 L51.2,389.6 L48.3,390.1 L45.3,389.6 L42.5,388.6 L39.8,387.0 L37.4,385.0 L35.6,382.3 L34.5,379.2 L33.2,376.2 L33.0,373.3 L33.4,370.3 L34.5,367.5 L36.8,364.7 L39.6,362.4 L43.0,360.5 Z" fill="none" stroke="#3cb4b4" stroke-opacity="0.55" stroke-width="0.9" filter="url(#disp)"/><path d="M50.5,393.7 L55.6,389.4 L61.4,387.2 L67.3,385.7 L71.6,381.3 L75.3,378.4 L80.4,377.0 L84.8,379.9 L87.0,385.0 L86.2,390.8 L83.3,394.5 L77.5,396.6 L73.1,401.0 L68.7,403.2 L62.9,401.0 L57.1,398.1 L52.7,396.6 Z" fill="#1a6e6e" filter="url(#tex)"/><path d="M50.5,393.7 L55.6,389.4 L61.4,387.2 L67.3,385.7 L71.6,381.3 L75.3,378.4 L80.4,377.0 L84.8,379.9 L87.0,385.0 L86.2,390.8 L83.3,394.5 L77.5,396.6 L73.1,401.0 L68.7,403.2 L62.9,401.0 L57.1,398.1 L52.7,396.6 Z" fill="none" stroke="#3cb4b4" stroke-opacity="0.55" stroke-width="0.9" filter="url(#disp)"/></g>
<g clip-path="url(#c211)"><g opacity="1.0"><ellipse cx="110" cy="378.5" rx="7" ry="3.2" transform="rotate(-15 110 378.5)" fill="#6a0e0e" filter="url(#bl2)"/><ellipse cx="124" cy="392" rx="10" ry="3.5" transform="rotate(-25 124 392)" fill="#4a0a0a" filter="url(#bl2)"/><ellipse cx="134" cy="387" rx="5" ry="4" transform="rotate(-20 134 387)" fill="#6a0e0e" filter="url(#bl2)"/><circle cx="104.6" cy="379.8" r="1.18" fill="#e02424" fill-opacity="0.51" filter="url(#bl1)"/><circle cx="110.5" cy="376.4" r="1.00" fill="#e02424" fill-opacity="0.41" filter="url(#bl1)"/><circle cx="112.9" cy="377.8" r="1.05" fill="#e02424" fill-opacity="0.49" filter="url(#bl1)"/><circle cx="107.4" cy="379.3" r="1.11" fill="#e02424" fill-opacity="0.87" filter="url(#bl1)"/><circle cx="101.2" cy="383.7" r="0.64" fill="#e02424" fill-opacity="0.80" filter="url(#bl1)"/><circle cx="111.2" cy="377.6" r="1.02" fill="#e02424" fill-opacity="0.66" filter="url(#bl1)"/><circle cx="112.0" cy="377.7" r="0.92" fill="#e02424" fill-opacity="0.84" filter="url(#bl1)"/><circle cx="108.3" cy="378.2" r="0.65" fill="#e02424" fill-opacity="0.87" filter="url(#bl1)"/><circle cx="100.1" cy="382.2" r="0.68" fill="#e02424" fill-opacity="0.80" filter="url(#bl1)"/><circle cx="112.6" cy="375.1" r="0.61" fill="#e02424" fill-opacity="0.55" filter="url(#bl1)"/><circle cx="114.7" cy="377.7" r="0.81" fill="#e02424" fill-opacity="0.88" filter="url(#bl1)"/><circle cx="106.3" cy="381.1" r="1.12" fill="#e02424" fill-opacity="0.48" filter="url(#bl1)"/><circle cx="102.9" cy="379.5" r="0.92" fill="#e02424" fill-opacity="0.55" filter="url(#bl1)"/><circle cx="109.4" cy="380.9" r="0.72" fill="#e02424" fill-opacity="0.68" filter="url(#bl1)"/><circle cx="106.4" cy="379.0" r="0.68" fill="#e02424" fill-opacity="0.71" filter="url(#bl1)"/><circle cx="112.3" cy="377.3" r="0.80" fill="#e02424" fill-opacity="0.85" filter="url(#bl1)"/><circle cx="107.9" cy="378.7" r="0.61" fill="#e02424" fill-opacity="0.76" filter="url(#bl1)"/><circle cx="108.1" cy="380.2" r="0.76" fill="#e02424" fill-opacity="0.70" filter="url(#bl1)"/><circle cx="109.7" cy="377.5" r="0.65" fill="#e02424" fill-opacity="0.89" filter="url(#bl1)"/><circle cx="110.5" cy="378.2" r="0.94" fill="#e02424" fill-opacity="0.73" filter="url(#bl1)"/><circle cx="106.0" cy="380.9" r="1.18" fill="#e02424" fill-opacity="0.67" filter="url(#bl1)"/><circle cx="108.5" cy="379.5" r="0.75" fill="#e02424" fill-opacity="0.43" filter="url(#bl1)"/><circle cx="125.1" cy="392.4" r="1.11" fill="#e02424" fill-opacity="0.65" filter="url(#bl1)"/><circle cx="126.0" cy="388.8" r="1.09" fill="#e02424" fill-opacity="0.38" filter="url(#bl1)"/><circle cx="124.6" cy="391.8" r="1.06" fill="#e02424" fill-opacity="0.81" filter="url(#bl1)"/><circle cx="120.8" cy="392.1" r="0.65" fill="#e02424" fill-opacity="0.40" filter="url(#bl1)"/><circle cx="121.1" cy="392.4" r="0.92" fill="#e02424" fill-opacity="0.50" filter="url(#bl1)"/><circle cx="124.7" cy="392.9" r="1.03" fill="#e02424" fill-opacity="0.62" filter="url(#bl1)"/><circle cx="119.4" cy="394.5" r="0.93" fill="#e02424" fill-opacity="0.63" filter="url(#bl1)"/><circle cx="113.2" cy="396.6" r="1.05" fill="#e02424" fill-opacity="0.48" filter="url(#bl1)"/><circle cx="121.9" cy="393.6" r="0.82" fill="#e02424" fill-opacity="0.37" filter="url(#bl1)"/><circle cx="122.8" cy="390.9" r="0.85" fill="#e02424" fill-opacity="0.84" filter="url(#bl1)"/><circle cx="120.5" cy="394.8" r="1.16" fill="#e02424" fill-opacity="0.66" filter="url(#bl1)"/><circle cx="120.1" cy="392.6" r="1.20" fill="#e02424" fill-opacity="0.77" filter="url(#bl1)"/><circle cx="121.8" cy="394.0" r="0.95" fill="#e02424" fill-opacity="0.64" filter="url(#bl1)"/><circle cx="120.4" cy="393.2" r="0.95" fill="#e02424" fill-opacity="0.74" filter="url(#bl1)"/><circle cx="123.4" cy="391.0" r="0.87" fill="#e02424" fill-opacity="0.63" filter="url(#bl1)"/><circle cx="118.6" cy="393.5" r="0.61" fill="#e02424" fill-opacity="0.49" filter="url(#bl1)"/><circle cx="130.5" cy="390.1" r="0.88" fill="#e02424" fill-opacity="0.76" filter="url(#bl1)"/><circle cx="123.8" cy="393.3" r="0.91" fill="#e02424" fill-opacity="0.73" filter="url(#bl1)"/><circle cx="127.5" cy="391.4" r="1.14" fill="#e02424" fill-opacity="0.69" filter="url(#bl1)"/><circle cx="124.8" cy="391.9" r="1.15" fill="#e02424" fill-opacity="0.81" filter="url(#bl1)"/><circle cx="127.9" cy="391.3" r="1.06" fill="#e02424" fill-opacity="0.47" filter="url(#bl1)"/><circle cx="118.4" cy="391.8" r="1.08" fill="#e02424" fill-opacity="0.59" filter="url(#bl1)"/><circle cx="136.0" cy="387.1" r="0.71" fill="#e02424" fill-opacity="0.65" filter="url(#bl1)"/><circle cx="133.8" cy="388.4" r="0.93" fill="#e02424" fill-opacity="0.80" filter="url(#bl1)"/><circle cx="135.8" cy="386.2" r="0.60" fill="#e02424" fill-opacity="0.76" filter="url(#bl1)"/><circle cx="132.4" cy="389.6" r="1.10" fill="#e02424" fill-opacity="0.37" filter="url(#bl1)"/><circle cx="133.8" cy="385.8" r="0.79" fill="#e02424" fill-opacity="0.53" filter="url(#bl1)"/><circle cx="132.7" cy="387.1" r="0.90" fill="#e02424" fill-opacity="0.51" filter="url(#bl1)"/><circle cx="134.9" cy="387.5" r="1.01" fill="#e02424" fill-opacity="0.52" filter="url(#bl1)"/><circle cx="134.5" cy="388.2" r="0.73" fill="#e02424" fill-opacity="0.89" filter="url(#bl1)"/><circle cx="134.2" cy="386.1" r="0.78" fill="#e02424" fill-opacity="0.59" filter="url(#bl1)"/><circle cx="132.3" cy="387.3" r="0.91" fill="#e02424" fill-opacity="0.77" filter="url(#bl1)"/><circle cx="135.3" cy="388.2" r="0.70" fill="#e02424" fill-opacity="0.64" filter="url(#bl1)"/><circle cx="132.7" cy="389.9" r="1.13" fill="#e02424" fill-opacity="0.88" filter="url(#bl1)"/><circle cx="132.0" cy="388.8" r="0.70" fill="#e02424" fill-opacity="0.74" filter="url(#bl1)"/><circle cx="134.3" cy="385.3" r="0.79" fill="#e02424" fill-opacity="0.77" filter="url(#bl1)"/></g></g>
<g clip-path="url(#c212)"><path d="M166.9,359.5 L170.5,358.2 L174.2,358.7 L178.0,359.0 L181.4,360.2 L184.5,361.5 L187.3,363.8 L189.5,366.5 L190.9,369.7 L191.8,373.0 L191.6,376.2 L190.5,379.0 L188.7,381.3 L186.5,383.5 L184.4,385.0 L181.8,385.2 L179.3,385.7 L176.8,387.5 L174.2,388.6 L171.2,389.6 L168.3,390.1 L165.3,389.6 L162.5,388.6 L159.8,387.0 L157.4,385.0 L155.6,382.3 L154.5,379.2 L153.2,376.2 L153.0,373.3 L153.4,370.3 L154.5,367.5 L156.8,364.7 L159.6,362.4 L163.0,360.5 Z" fill="#1c6a68" filter="url(#tex)"/><path d="M166.9,359.5 L170.5,358.2 L174.2,358.7 L178.0,359.0 L181.4,360.2 L184.5,361.5 L187.3,363.8 L189.5,366.5 L190.9,369.7 L191.8,373.0 L191.6,376.2 L190.5,379.0 L188.7,381.3 L186.5,383.5 L184.4,385.0 L181.8,385.2 L179.3,385.7 L176.8,387.5 L174.2,388.6 L171.2,389.6 L168.3,390.1 L165.3,389.6 L162.5,388.6 L159.8,387.0 L157.4,385.0 L155.6,382.3 L154.5,379.2 L153.2,376.2 L153.0,373.3 L153.4,370.3 L154.5,367.5 L156.8,364.7 L159.6,362.4 L163.0,360.5 Z" fill="none" stroke="#3cb4b4" stroke-opacity="0.55" stroke-width="0.9" filter="url(#disp)"/><path d="M170.5,393.7 L175.6,389.4 L181.4,387.2 L187.3,385.7 L191.6,381.3 L195.3,378.4 L200.4,377.0 L204.8,379.9 L207.0,385.0 L206.2,390.8 L203.3,394.5 L197.5,396.6 L193.1,401.0 L188.7,403.2 L182.9,401.0 L177.1,398.1 L172.7,396.6 Z" fill="#1c6a68" filter="url(#tex)"/><path d="M170.5,393.7 L175.6,389.4 L181.4,387.2 L187.3,385.7 L191.6,381.3 L195.3,378.4 L200.4,377.0 L204.8,379.9 L207.0,385.0 L206.2,390.8 L203.3,394.5 L197.5,396.6 L193.1,401.0 L188.7,403.2 L182.9,401.0 L177.1,398.1 L172.7,396.6 Z" fill="none" stroke="#3cb4b4" stroke-opacity="0.55" stroke-width="0.9" filter="url(#disp)"/><g opacity="0.85"><ellipse cx="170" cy="378.5" rx="7" ry="3.2" transform="rotate(-15 170 378.5)" fill="#6a0e0e" filter="url(#bl2)"/><ellipse cx="184" cy="392" rx="10" ry="3.5" transform="rotate(-25 184 392)" fill="#4a0a0a" filter="url(#bl2)"/><ellipse cx="194" cy="387" rx="5" ry="4" transform="rotate(-20 194 387)" fill="#6a0e0e" filter="url(#bl2)"/><circle cx="164.6" cy="379.8" r="1.18" fill="#e02424" fill-opacity="0.51" filter="url(#bl1)"/><circle cx="170.5" cy="376.4" r="1.00" fill="#e02424" fill-opacity="0.41" filter="url(#bl1)"/><circle cx="172.9" cy="377.8" r="1.05" fill="#e02424" fill-opacity="0.49" filter="url(#bl1)"/><circle cx="167.4" cy="379.3" r="1.11" fill="#e02424" fill-opacity="0.87" filter="url(#bl1)"/><circle cx="161.2" cy="383.7" r="0.64" fill="#e02424" fill-opacity="0.80" filter="url(#bl1)"/><circle cx="171.2" cy="377.6" r="1.02" fill="#e02424" fill-opacity="0.66" filter="url(#bl1)"/><circle cx="172.0" cy="377.7" r="0.92" fill="#e02424" fill-opacity="0.84" filter="url(#bl1)"/><circle cx="168.3" cy="378.2" r="0.65" fill="#e02424" fill-opacity="0.87" filter="url(#bl1)"/><circle cx="160.1" cy="382.2" r="0.68" fill="#e02424" fill-opacity="0.80" filter="url(#bl1)"/><circle cx="172.6" cy="375.1" r="0.61" fill="#e02424" fill-opacity="0.55" filter="url(#bl1)"/><circle cx="174.7" cy="377.7" r="0.81" fill="#e02424" fill-opacity="0.88" filter="url(#bl1)"/><circle cx="166.3" cy="381.1" r="1.12" fill="#e02424" fill-opacity="0.48" filter="url(#bl1)"/><circle cx="162.9" cy="379.5" r="0.92" fill="#e02424" fill-opacity="0.55" filter="url(#bl1)"/><circle cx="169.4" cy="380.9" r="0.72" fill="#e02424" fill-opacity="0.68" filter="url(#bl1)"/><circle cx="166.4" cy="379.0" r="0.68" fill="#e02424" fill-opacity="0.71" filter="url(#bl1)"/><circle cx="172.3" cy="377.3" r="0.80" fill="#e02424" fill-opacity="0.85" filter="url(#bl1)"/><circle cx="167.9" cy="378.7" r="0.61" fill="#e02424" fill-opacity="0.76" filter="url(#bl1)"/><circle cx="168.1" cy="380.2" r="0.76" fill="#e02424" fill-opacity="0.70" filter="url(#bl1)"/><circle cx="169.7" cy="377.5" r="0.65" fill="#e02424" fill-opacity="0.89" filter="url(#bl1)"/><circle cx="170.5" cy="378.2" r="0.94" fill="#e02424" fill-opacity="0.73" filter="url(#bl1)"/><circle cx="166.0" cy="380.9" r="1.18" fill="#e02424" fill-opacity="0.67" filter="url(#bl1)"/><circle cx="168.5" cy="379.5" r="0.75" fill="#e02424" fill-opacity="0.43" filter="url(#bl1)"/><circle cx="185.1" cy="392.4" r="1.11" fill="#e02424" fill-opacity="0.65" filter="url(#bl1)"/><circle cx="186.0" cy="388.8" r="1.09" fill="#e02424" fill-opacity="0.38" filter="url(#bl1)"/><circle cx="184.6" cy="391.8" r="1.06" fill="#e02424" fill-opacity="0.81" filter="url(#bl1)"/><circle cx="180.8" cy="392.1" r="0.65" fill="#e02424" fill-opacity="0.40" filter="url(#bl1)"/><circle cx="181.1" cy="392.4" r="0.92" fill="#e02424" fill-opacity="0.50" filter="url(#bl1)"/><circle cx="184.7" cy="392.9" r="1.03" fill="#e02424" fill-opacity="0.62" filter="url(#bl1)"/><circle cx="179.4" cy="394.5" r="0.93" fill="#e02424" fill-opacity="0.63" filter="url(#bl1)"/><circle cx="173.2" cy="396.6" r="1.05" fill="#e02424" fill-opacity="0.48" filter="url(#bl1)"/><circle cx="181.9" cy="393.6" r="0.82" fill="#e02424" fill-opacity="0.37" filter="url(#bl1)"/><circle cx="182.8" cy="390.9" r="0.85" fill="#e02424" fill-opacity="0.84" filter="url(#bl1)"/><circle cx="180.5" cy="394.8" r="1.16" fill="#e02424" fill-opacity="0.66" filter="url(#bl1)"/><circle cx="180.1" cy="392.6" r="1.20" fill="#e02424" fill-opacity="0.77" filter="url(#bl1)"/><circle cx="181.8" cy="394.0" r="0.95" fill="#e02424" fill-opacity="0.64" filter="url(#bl1)"/><circle cx="180.4" cy="393.2" r="0.95" fill="#e02424" fill-opacity="0.74" filter="url(#bl1)"/><circle cx="183.4" cy="391.0" r="0.87" fill="#e02424" fill-opacity="0.63" filter="url(#bl1)"/><circle cx="178.6" cy="393.5" r="0.61" fill="#e02424" fill-opacity="0.49" filter="url(#bl1)"/><circle cx="190.5" cy="390.1" r="0.88" fill="#e02424" fill-opacity="0.76" filter="url(#bl1)"/><circle cx="183.8" cy="393.3" r="0.91" fill="#e02424" fill-opacity="0.73" filter="url(#bl1)"/><circle cx="187.5" cy="391.4" r="1.14" fill="#e02424" fill-opacity="0.69" filter="url(#bl1)"/><circle cx="184.8" cy="391.9" r="1.15" fill="#e02424" fill-opacity="0.81" filter="url(#bl1)"/><circle cx="187.9" cy="391.3" r="1.06" fill="#e02424" fill-opacity="0.47" filter="url(#bl1)"/><circle cx="178.4" cy="391.8" r="1.08" fill="#e02424" fill-opacity="0.59" filter="url(#bl1)"/><circle cx="196.0" cy="387.1" r="0.71" fill="#e02424" fill-opacity="0.65" filter="url(#bl1)"/><circle cx="193.8" cy="388.4" r="0.93" fill="#e02424" fill-opacity="0.80" filter="url(#bl1)"/><circle cx="195.8" cy="386.2" r="0.60" fill="#e02424" fill-opacity="0.76" filter="url(#bl1)"/><circle cx="192.4" cy="389.6" r="1.10" fill="#e02424" fill-opacity="0.37" filter="url(#bl1)"/><circle cx="193.8" cy="385.8" r="0.79" fill="#e02424" fill-opacity="0.53" filter="url(#bl1)"/><circle cx="192.7" cy="387.1" r="0.90" fill="#e02424" fill-opacity="0.51" filter="url(#bl1)"/><circle cx="194.9" cy="387.5" r="1.01" fill="#e02424" fill-opacity="0.52" filter="url(#bl1)"/><circle cx="194.5" cy="388.2" r="0.73" fill="#e02424" fill-opacity="0.89" filter="url(#bl1)"/><circle cx="194.2" cy="386.1" r="0.78" fill="#e02424" fill-opacity="0.59" filter="url(#bl1)"/><circle cx="192.3" cy="387.3" r="0.91" fill="#e02424" fill-opacity="0.77" filter="url(#bl1)"/><circle cx="195.3" cy="388.2" r="0.70" fill="#e02424" fill-opacity="0.64" filter="url(#bl1)"/><circle cx="192.7" cy="389.9" r="1.13" fill="#e02424" fill-opacity="0.88" filter="url(#bl1)"/><circle cx="192.0" cy="388.8" r="0.70" fill="#e02424" fill-opacity="0.74" filter="url(#bl1)"/><circle cx="194.3" cy="385.3" r="0.79" fill="#e02424" fill-opacity="0.77" filter="url(#bl1)"/></g></g>
<rect x="196" y="406.5" width="10" height="2.2" fill="#fff"/>
<text x="7.4" y="16.7" font-family='"Liberation Sans", sans-serif' font-size="11.2" font-weight="bold" font-style="normal" text-anchor="start" fill="#000" >A</text>
<text x="62" y="18.2" font-family='"Liberation Sans", sans-serif' font-size="8.1" font-weight="normal" font-style="normal" text-anchor="middle" fill="#222" stroke="#222" stroke-width="0.15">tubulin</text>
<text x="122.7" y="18.2" font-family='"Liberation Sans", sans-serif' font-size="8.1" font-weight="normal" font-style="normal" text-anchor="middle" fill="#222" stroke="#222" stroke-width="0.15">tomm20</text>
<text x="179.7" y="18.2" font-family='"Liberation Sans", sans-serif' font-size="8.1" font-weight="normal" font-style="normal" text-anchor="middle" fill="#222" stroke="#222" stroke-width="0.15">merge</text>
<text x="8" y="153.1" font-family='"Liberation Sans", sans-serif' font-size="11.2" font-weight="bold" font-style="normal" text-anchor="start" fill="#000" >B</text>
<text x="62" y="153.3" font-family='"Liberation Sans", sans-serif' font-size="8.1" font-weight="normal" font-style="normal" text-anchor="middle" fill="#222" stroke="#222" stroke-width="0.15">tubulin</text>
<text x="122.7" y="153.3" font-family='"Liberation Sans", sans-serif' font-size="8.1" font-weight="normal" font-style="normal" text-anchor="middle" fill="#222" stroke="#222" stroke-width="0.15">mitotracker</text>
<text x="179.7" y="153.3" font-family='"Liberation Sans", sans-serif' font-size="8.1" font-weight="normal" font-style="normal" text-anchor="middle" fill="#222" stroke="#222" stroke-width="0.15">merge</text>
<text x="7.4" y="287.6" font-family='"Liberation Sans", sans-serif' font-size="11.2" font-weight="bold" font-style="normal" text-anchor="start" fill="#000" >C</text>
<text x="62" y="288.5" font-family='"Liberation Sans", sans-serif' font-size="8.1" font-weight="normal" font-style="normal" text-anchor="middle" fill="#222" stroke="#222" stroke-width="0.15">integrin</text>
<text x="122.7" y="288.5" font-family='"Liberation Sans", sans-serif' font-size="8.1" font-weight="normal" font-style="normal" text-anchor="middle" fill="#222" stroke="#222" stroke-width="0.15">mitotracker</text>
<text x="179.7" y="288.5" font-family='"Liberation Sans", sans-serif' font-size="8.1" font-weight="normal" font-style="normal" text-anchor="middle" fill="#222" stroke="#222" stroke-width="0.15">merge</text>
<line x1="271.5" y1="25.3" x2="271.5" y2="178.5" stroke="#3a3a3a" stroke-width="1.2" />
<line x1="270.9" y1="178.0" x2="374.7" y2="178.0" stroke="#3a3a3a" stroke-width="1.2" />
<line x1="268.5" y1="178.0" x2="271.5" y2="178.0" stroke="#3a3a3a" stroke-width="1.2" />
<text x="266.1" y="180.85" font-family='"Liberation Sans", sans-serif' font-size="8.2" font-weight="normal" font-style="normal" text-anchor="end" fill="#2a2a2a" stroke="#2a2a2a" stroke-width="0.22">0</text>
<line x1="268.5" y1="158.975" x2="271.5" y2="158.975" stroke="#3a3a3a" stroke-width="1.2" />
<text x="266.1" y="161.825" font-family='"Liberation Sans", sans-serif' font-size="8.2" font-weight="normal" font-style="normal" text-anchor="end" fill="#2a2a2a" stroke="#2a2a2a" stroke-width="0.22">5</text>
<line x1="268.5" y1="139.95" x2="271.5" y2="139.95" stroke="#3a3a3a" stroke-width="1.2" />
<text x="266.1" y="142.79999999999998" font-family='"Liberation Sans", sans-serif' font-size="8.2" font-weight="normal" font-style="normal" text-anchor="end" fill="#2a2a2a" stroke="#2a2a2a" stroke-width="0.22">10</text>
<line x1="268.5" y1="120.925" x2="271.5" y2="120.925" stroke="#3a3a3a" stroke-width="1.2" />
<text x="266.1" y="123.77499999999999" font-family='"Liberation Sans", sans-serif' font-size="8.2" font-weight="normal" font-style="normal" text-anchor="end" fill="#2a2a2a" stroke="#2a2a2a" stroke-width="0.22">15</text>
<line x1="268.5" y1="101.89999999999999" x2="271.5" y2="101.89999999999999" stroke="#3a3a3a" stroke-width="1.2" />
<text x="266.1" y="104.74999999999999" font-family='"Liberation Sans", sans-serif' font-size="8.2" font-weight="normal" font-style="normal" text-anchor="end" fill="#2a2a2a" stroke="#2a2a2a" stroke-width="0.22">20</text>
<line x1="268.5" y1="82.875" x2="271.5" y2="82.875" stroke="#3a3a3a" stroke-width="1.2" />
<text x="266.1" y="85.725" font-family='"Liberation Sans", sans-serif' font-size="8.2" font-weight="normal" font-style="normal" text-anchor="end" fill="#2a2a2a" stroke="#2a2a2a" stroke-width="0.22">25</text>
<line x1="268.5" y1="63.849999999999994" x2="271.5" y2="63.849999999999994" stroke="#3a3a3a" stroke-width="1.2" />
<text x="266.1" y="66.69999999999999" font-family='"Liberation Sans", sans-serif' font-size="8.2" font-weight="normal" font-style="normal" text-anchor="end" fill="#2a2a2a" stroke="#2a2a2a" stroke-width="0.22">30</text>
<line x1="268.5" y1="44.82499999999999" x2="271.5" y2="44.82499999999999" stroke="#3a3a3a" stroke-width="1.2" />
<text x="266.1" y="47.67499999999999" font-family='"Liberation Sans", sans-serif' font-size="8.2" font-weight="normal" font-style="normal" text-anchor="end" fill="#2a2a2a" stroke="#2a2a2a" stroke-width="0.22">35</text>
<line x1="268.5" y1="25.799999999999983" x2="271.5" y2="25.799999999999983" stroke="#3a3a3a" stroke-width="1.2" />
<text x="266.1" y="28.649999999999984" font-family='"Liberation Sans", sans-serif' font-size="8.2" font-weight="normal" font-style="normal" text-anchor="end" fill="#2a2a2a" stroke="#2a2a2a" stroke-width="0.22">40</text>
<line x1="421.5" y1="25.3" x2="421.5" y2="178.5" stroke="#3a3a3a" stroke-width="1.2" />
<line x1="420.9" y1="178.0" x2="512.6" y2="178.0" stroke="#3a3a3a" stroke-width="1.2" />
<line x1="418.5" y1="178.0" x2="421.5" y2="178.0" stroke="#3a3a3a" stroke-width="1.2" />
<text x="416.1" y="180.85" font-family='"Liberation Sans", sans-serif' font-size="8.2" font-weight="normal" font-style="normal" text-anchor="end" fill="#2a2a2a" stroke="#2a2a2a" stroke-width="0.22">0</text>
<line x1="418.5" y1="158.975" x2="421.5" y2="158.975" stroke="#3a3a3a" stroke-width="1.2" />
<text x="416.1" y="161.825" font-family='"Liberation Sans", sans-serif' font-size="8.2" font-weight="normal" font-style="normal" text-anchor="end" fill="#2a2a2a" stroke="#2a2a2a" stroke-width="0.22">5</text>
<line x1="418.5" y1="139.95" x2="421.5" y2="139.95" stroke="#3a3a3a" stroke-width="1.2" />
<text x="416.1" y="142.79999999999998" font-family='"Liberation Sans", sans-serif' font-size="8.2" font-weight="normal" font-style="normal" text-anchor="end" fill="#2a2a2a" stroke="#2a2a2a" stroke-width="0.22">10</text>
<line x1="418.5" y1="120.925" x2="421.5" y2="120.925" stroke="#3a3a3a" stroke-width="1.2" />
<text x="416.1" y="123.77499999999999" font-family='"Liberation Sans", sans-serif' font-size="8.2" font-weight="normal" font-style="normal" text-anchor="end" fill="#2a2a2a" stroke="#2a2a2a" stroke-width="0.22">15</text>
<line x1="418.5" y1="101.89999999999999" x2="421.5" y2="101.89999999999999" stroke="#3a3a3a" stroke-width="1.2" />
<text x="416.1" y="104.74999999999999" font-family='"Liberation Sans", sans-serif' font-size="8.2" font-weight="normal" font-style="normal" text-anchor="end" fill="#2a2a2a" stroke="#2a2a2a" stroke-width="0.22">20</text>
<line x1="418.5" y1="82.875" x2="421.5" y2="82.875" stroke="#3a3a3a" stroke-width="1.2" />
<text x="416.1" y="85.725" font-family='"Liberation Sans", sans-serif' font-size="8.2" font-weight="normal" font-style="normal" text-anchor="end" fill="#2a2a2a" stroke="#2a2a2a" stroke-width="0.22">25</text>
<line x1="418.5" y1="63.849999999999994" x2="421.5" y2="63.849999999999994" stroke="#3a3a3a" stroke-width="1.2" />
<text x="416.1" y="66.69999999999999" font-family='"Liberation Sans", sans-serif' font-size="8.2" font-weight="normal" font-style="normal" text-anchor="end" fill="#2a2a2a" stroke="#2a2a2a" stroke-width="0.22">30</text>
<line x1="418.5" y1="44.82499999999999" x2="421.5" y2="44.82499999999999" stroke="#3a3a3a" stroke-width="1.2" />
<text x="416.1" y="47.67499999999999" font-family='"Liberation Sans", sans-serif' font-size="8.2" font-weight="normal" font-style="normal" text-anchor="end" fill="#2a2a2a" stroke="#2a2a2a" stroke-width="0.22">35</text>
<line x1="418.5" y1="25.799999999999983" x2="421.5" y2="25.799999999999983" stroke="#3a3a3a" stroke-width="1.2" />
<text x="416.1" y="28.649999999999984" font-family='"Liberation Sans", sans-serif' font-size="8.2" font-weight="normal" font-style="normal" text-anchor="end" fill="#2a2a2a" stroke="#2a2a2a" stroke-width="0.22">40</text>
<text x="236" y="16.5" font-family='"Liberation Sans", sans-serif' font-size="10.4" font-weight="bold" font-style="normal" text-anchor="start" fill="#000" >D</text>
<text x="383.5" y="16.5" font-family='"Liberation Sans", sans-serif' font-size="10.4" font-weight="bold" font-style="normal" text-anchor="start" fill="#000" >G</text>
<text x="0" y="0" transform="translate(249.6,100.4) rotate(-90)" font-family='"Liberation Sans", sans-serif' font-size="8.2" font-weight="bold" text-anchor="middle" fill="#222" textLength="62.5" lengthAdjust="spacingAndGlyphs">Mitochondria/platelet</text>
<text x="0" y="0" transform="translate(400.2,100.4) rotate(-90)" font-family='"Liberation Sans", sans-serif' font-size="8.2" font-weight="bold" text-anchor="middle" fill="#222" textLength="62.5" lengthAdjust="spacingAndGlyphs">Mitochondria/platelet</text>
<rect x="275" y="23.6" width="5" height="5" fill="#f2b520"/>
<text x="282.6" y="28.900000000000002" font-family='"Liberation Sans", sans-serif' font-size="7.8" font-weight="normal" font-style="normal" text-anchor="start" fill="#222" stroke="#222" stroke-width="0.18">0 min D1</text>
<rect x="275" y="31.700000000000003" width="5" height="5" fill="#b9782c"/>
<text x="282.6" y="37.0" font-family='"Liberation Sans", sans-serif' font-size="7.8" font-weight="normal" font-style="normal" text-anchor="start" fill="#222" stroke="#222" stroke-width="0.18">0 min D2</text>
<rect x="275" y="40.0" width="5" height="5" fill="#d9d9e2"/>
<text x="282.6" y="45.3" font-family='"Liberation Sans", sans-serif' font-size="7.8" font-weight="normal" font-style="normal" text-anchor="start" fill="#222" stroke="#222" stroke-width="0.18">60 min D1</text>
<rect x="275" y="48.2" width="5" height="5" fill="#4f4f4f"/>
<text x="282.6" y="53.5" font-family='"Liberation Sans", sans-serif' font-size="7.8" font-weight="normal" font-style="normal" text-anchor="start" fill="#222" stroke="#222" stroke-width="0.18">60 min D2</text>
<rect x="427.4" y="23.6" width="5" height="5" fill="#c07a22"/>
<text x="434.6" y="28.900000000000002" font-family='"Liberation Sans", sans-serif' font-size="7.95" font-weight="normal" font-style="normal" text-anchor="start" fill="#222" stroke="#222" stroke-width="0.18">0 min</text>
<rect x="427.4" y="31.799999999999997" width="5" height="5" fill="#2ea3dc"/>
<text x="434.6" y="37.099999999999994" font-family='"Liberation Sans", sans-serif' font-size="7.95" font-weight="normal" font-style="normal" text-anchor="start" fill="#222" stroke="#222" stroke-width="0.18">5 min</text>
<rect x="427.4" y="40.0" width="5" height="5" fill="#5b2d6d"/>
<text x="434.6" y="45.3" font-family='"Liberation Sans", sans-serif' font-size="7.95" font-weight="normal" font-style="normal" text-anchor="start" fill="#222" stroke="#222" stroke-width="0.18">30 min</text>
<rect x="427.4" y="48.2" width="5" height="5" fill="#c9c9c9"/>
<text x="434.6" y="53.5" font-family='"Liberation Sans", sans-serif' font-size="7.95" font-weight="normal" font-style="normal" text-anchor="start" fill="#222" stroke="#222" stroke-width="0.18">60 min</text>
<line x1="303.5" y1="129" x2="303.5" y2="178" stroke="#555" stroke-width="0.9" />
<line x1="301.5" y1="129" x2="305.5" y2="129" stroke="#555" stroke-width="0.9" />
<line x1="301.5" y1="178" x2="305.5" y2="178" stroke="#555" stroke-width="0.9" />
<rect x="297.4" y="148" width="12.200000000000045" height="18.69999999999999" fill="#f4b814"/>
<line x1="297.4" y1="159.4" x2="309.6" y2="159.4" stroke="#3a2a10" stroke-width="1.5" />
<path d="M302.0,154.8 L305.0,157.8 M305.0,154.8 L302.0,157.8" stroke="#3a2a10" stroke-width="0.7"/>
<line x1="316.8" y1="136.4" x2="316.8" y2="174.5" stroke="#555" stroke-width="0.9" />
<line x1="314.8" y1="136.4" x2="318.8" y2="136.4" stroke="#555" stroke-width="0.9" />
<line x1="314.8" y1="174.5" x2="318.8" y2="174.5" stroke="#555" stroke-width="0.9" />
<rect x="310.9" y="155.8" width="11.800000000000011" height="12.799999999999983" fill="#c8893c"/>
<line x1="310.9" y1="162.8" x2="322.7" y2="162.8" stroke="#3a2a10" stroke-width="1.5" />
<path d="M315.3,158.1 L318.3,161.1 M318.3,158.1 L315.3,161.1" stroke="#3a2a10" stroke-width="0.7"/>
<line x1="329.4" y1="96.4" x2="329.4" y2="174.5" stroke="#555" stroke-width="0.9" />
<line x1="327.4" y1="96.4" x2="331.4" y2="96.4" stroke="#555" stroke-width="0.9" />
<line x1="327.4" y1="174.5" x2="331.4" y2="174.5" stroke="#555" stroke-width="0.9" />
<rect x="323.5" y="133.8" width="11.699999999999989" height="25.399999999999977" fill="#d6d5de"/>
<line x1="323.5" y1="147.7" x2="335.2" y2="147.7" stroke="#444" stroke-width="1.5" />
<path d="M327.9,141.5 L330.9,144.5 M330.9,141.5 L327.9,144.5" stroke="#444" stroke-width="0.7"/>
<line x1="342.5" y1="82.4" x2="342.5" y2="174.5" stroke="#555" stroke-width="0.9" />
<line x1="340.5" y1="82.4" x2="344.5" y2="82.4" stroke="#555" stroke-width="0.9" />
<line x1="340.5" y1="174.5" x2="344.5" y2="174.5" stroke="#555" stroke-width="0.9" />
<rect x="336.4" y="133" width="12.200000000000045" height="29.599999999999994" fill="#4d4d4d"/>
<line x1="336.4" y1="147.7" x2="348.6" y2="147.7" stroke="#222" stroke-width="1.5" />
<path d="M341.0,141.5 L344.0,144.5 M344.0,141.5 L341.0,144.5" stroke="#222" stroke-width="0.7"/>
<circle cx="317" cy="114" r="0.75" fill="#222"/>
<circle cx="329.2" cy="30.1" r="0.75" fill="#222"/>
<circle cx="329.2" cy="41.8" r="0.75" fill="#222"/>
<circle cx="342.7" cy="56.6" r="0.75" fill="#222"/>
<circle cx="329.2" cy="71.8" r="0.75" fill="#222"/>
<circle cx="342.7" cy="75.2" r="0.75" fill="#222"/>
<circle cx="329.1" cy="86.5" r="0.75" fill="#222"/>
<circle cx="342.6" cy="82.5" r="0.75" fill="#222"/>
<text x="302.0" y="83.4" font-family='"Liberation Sans", sans-serif' font-size="8.8" fill="#222" stroke="#222" stroke-width="0.15" textLength="38.6" lengthAdjust="spacingAndGlyphs"><tspan font-style="italic">P</tspan> &lt; .00001</text>
<line x1="316.3" y1="84.4" x2="342.6" y2="84.4" stroke="#555" stroke-width="0.8" />
<line x1="316.3" y1="84.4" x2="316.3" y2="86.6" stroke="#555" stroke-width="0.8" />
<text x="289.0" y="94.5" font-family='"Liberation Sans", sans-serif' font-size="8.8" fill="#222" stroke="#222" stroke-width="0.15" textLength="38.6" lengthAdjust="spacingAndGlyphs"><tspan font-style="italic">P</tspan> &lt; .00001</text>
<line x1="303.5" y1="95.7" x2="329.6" y2="95.7" stroke="#555" stroke-width="0.8" />
<line x1="303.5" y1="95.7" x2="303.5" y2="97.9" stroke="#555" stroke-width="0.8" />
<line x1="435" y1="132.6" x2="435" y2="174.2" stroke="#222" stroke-width="1.2" stroke-dasharray="1 0.9"/>
<line x1="431.3" y1="132.6" x2="438.7" y2="132.6" stroke="#333" stroke-width="1.3" />
<line x1="431.3" y1="174.2" x2="438.7" y2="174.2" stroke="#333" stroke-width="1.3" />
<rect x="427.2" y="147.8" width="15.699999999999989" height="15.199999999999989" fill="#c8862e"/>
<rect x="433.3" y="170.0" width="3.4" height="0.8" fill="#333" fill-opacity="0.7"/>
<rect x="433.3" y="166.2" width="3.4" height="0.8" fill="#333" fill-opacity="0.7"/>
<rect x="434.1" y="158.5" width="2.3" height="0.9" fill="#5a3410" fill-opacity="0.6"/>
<rect x="430.4" y="158.5" width="2.1" height="0.9" fill="#5a3410" fill-opacity="0.6"/>
<rect x="435.6" y="158.5" width="2.6" height="0.9" fill="#5a3410" fill-opacity="0.6"/>
<rect x="429.3" y="158.5" width="1.7" height="0.9" fill="#5a3410" fill-opacity="0.6"/>
<rect x="429.3" y="158.5" width="2.7" height="0.9" fill="#5a3410" fill-opacity="0.6"/>
<rect x="436.3" y="158.5" width="1.3" height="0.9" fill="#5a3410" fill-opacity="0.6"/>
<rect x="439.5" y="154.7" width="2.4" height="0.9" fill="#5a3410" fill-opacity="0.6"/>
<rect x="435.4" y="154.7" width="1.5" height="0.9" fill="#5a3410" fill-opacity="0.6"/>
<rect x="428.4" y="154.7" width="2.2" height="0.9" fill="#5a3410" fill-opacity="0.6"/>
<rect x="428.9" y="154.7" width="1.5" height="0.9" fill="#5a3410" fill-opacity="0.6"/>
<rect x="431.0" y="154.7" width="1.3" height="0.9" fill="#5a3410" fill-opacity="0.6"/>
<rect x="433.6" y="154.7" width="2.0" height="0.9" fill="#5a3410" fill-opacity="0.6"/>
<rect x="434.3" y="150.9" width="2.4" height="0.9" fill="#5a3410" fill-opacity="0.6"/>
<rect x="434.0" y="150.9" width="2.4" height="0.9" fill="#5a3410" fill-opacity="0.6"/>
<rect x="433.6" y="150.9" width="1.7" height="0.9" fill="#5a3410" fill-opacity="0.6"/>
<rect x="439.9" y="150.9" width="3.0" height="0.9" fill="#5a3410" fill-opacity="0.6"/>
<rect x="434.4" y="143.4" width="1.2" height="0.8" fill="#333" fill-opacity="0.7"/>
<rect x="433.8" y="139.5" width="2.4" height="0.8" fill="#333" fill-opacity="0.7"/>
<rect x="433.8" y="135.7" width="2.4" height="0.8" fill="#333" fill-opacity="0.7"/>
<line x1="427.2" y1="155.8" x2="442.9" y2="155.8" stroke="#3b2410" stroke-width="1.4" />
<line x1="454.4" y1="129" x2="454.4" y2="170.7" stroke="#222" stroke-width="1.2" stroke-dasharray="1 0.9"/>
<line x1="450.7" y1="129" x2="458.09999999999997" y2="129" stroke="#333" stroke-width="1.3" />
<line x1="450.7" y1="170.7" x2="458.09999999999997" y2="170.7" stroke="#333" stroke-width="1.3" />
<rect x="446.7" y="143.9" width="15.300000000000011" height="13.299999999999983" fill="#2ea6e0"/>
<rect x="453.6" y="166.2" width="1.6" height="0.8" fill="#333" fill-opacity="0.7"/>
<rect x="453.2" y="162.4" width="2.4" height="0.8" fill="#333" fill-opacity="0.7"/>
<rect x="453.8" y="158.6" width="1.2" height="0.8" fill="#333" fill-opacity="0.7"/>
<rect x="454.1" y="154.7" width="1.4" height="0.9" fill="#10405a" fill-opacity="0.6"/>
<rect x="448.9" y="154.7" width="1.7" height="0.9" fill="#10405a" fill-opacity="0.6"/>
<rect x="448.5" y="154.7" width="1.2" height="0.9" fill="#10405a" fill-opacity="0.6"/>
<rect x="450.1" y="150.9" width="2.9" height="0.9" fill="#10405a" fill-opacity="0.6"/>
<rect x="448.3" y="150.9" width="1.9" height="0.9" fill="#10405a" fill-opacity="0.6"/>
<rect x="455.7" y="150.9" width="2.0" height="0.9" fill="#10405a" fill-opacity="0.6"/>
<rect x="456.5" y="147.1" width="1.7" height="0.9" fill="#10405a" fill-opacity="0.6"/>
<rect x="448.7" y="147.1" width="1.8" height="0.9" fill="#10405a" fill-opacity="0.6"/>
<rect x="458.6" y="147.1" width="2.6" height="0.9" fill="#10405a" fill-opacity="0.6"/>
<rect x="449.0" y="147.1" width="1.6" height="0.9" fill="#10405a" fill-opacity="0.6"/>
<rect x="453.8" y="139.5" width="1.2" height="0.8" fill="#333" fill-opacity="0.7"/>
<rect x="453.8" y="135.7" width="1.2" height="0.8" fill="#333" fill-opacity="0.7"/>
<rect x="453.8" y="131.9" width="1.2" height="0.8" fill="#333" fill-opacity="0.7"/>
<line x1="446.7" y1="147.8" x2="462.0" y2="147.8" stroke="#0f3550" stroke-width="1.4" />
<line x1="474.2" y1="95" x2="474.2" y2="171.0" stroke="#222" stroke-width="1.2" stroke-dasharray="1 0.9"/>
<line x1="470.5" y1="95" x2="477.9" y2="95" stroke="#333" stroke-width="1.3" />
<line x1="470.5" y1="171.0" x2="477.9" y2="171.0" stroke="#333" stroke-width="1.3" />
<rect x="466.0" y="129.0" width="15.899999999999977" height="26.900000000000006" fill="#5c2e6e"/>
<rect x="472.5" y="166.2" width="3.4" height="0.8" fill="#333" fill-opacity="0.7"/>
<rect x="472.5" y="162.4" width="3.4" height="0.8" fill="#333" fill-opacity="0.7"/>
<rect x="473.4" y="158.6" width="1.6" height="0.8" fill="#333" fill-opacity="0.7"/>
<rect x="472.3" y="150.9" width="1.5" height="0.9" fill="#2a1436" fill-opacity="0.6"/>
<rect x="475.7" y="150.9" width="1.4" height="0.9" fill="#2a1436" fill-opacity="0.6"/>
<rect x="474.7" y="150.9" width="1.4" height="0.9" fill="#2a1436" fill-opacity="0.6"/>
<rect x="472.0" y="150.9" width="1.6" height="0.9" fill="#2a1436" fill-opacity="0.6"/>
<rect x="477.3" y="147.1" width="3.0" height="0.9" fill="#2a1436" fill-opacity="0.6"/>
<rect x="474.1" y="147.1" width="3.0" height="0.9" fill="#2a1436" fill-opacity="0.6"/>
<rect x="467.2" y="147.1" width="1.5" height="0.9" fill="#2a1436" fill-opacity="0.6"/>
<rect x="478.9" y="147.1" width="2.3" height="0.9" fill="#2a1436" fill-opacity="0.6"/>
<rect x="473.9" y="147.1" width="1.3" height="0.9" fill="#2a1436" fill-opacity="0.6"/>
<rect x="469.5" y="143.3" width="1.7" height="0.9" fill="#2a1436" fill-opacity="0.6"/>
<rect x="476.2" y="143.3" width="1.8" height="0.9" fill="#2a1436" fill-opacity="0.6"/>
<rect x="470.5" y="143.3" width="1.3" height="0.9" fill="#2a1436" fill-opacity="0.6"/>
<rect x="468.1" y="143.3" width="2.2" height="0.9" fill="#2a1436" fill-opacity="0.6"/>
<rect x="467.2" y="139.5" width="1.9" height="0.9" fill="#2a1436" fill-opacity="0.6"/>
<rect x="474.4" y="139.5" width="1.4" height="0.9" fill="#2a1436" fill-opacity="0.6"/>
<rect x="474.0" y="139.5" width="2.7" height="0.9" fill="#2a1436" fill-opacity="0.6"/>
<rect x="468.6" y="139.5" width="1.9" height="0.9" fill="#2a1436" fill-opacity="0.6"/>
<rect x="470.7" y="135.7" width="1.6" height="0.9" fill="#2a1436" fill-opacity="0.6"/>
<rect x="474.3" y="135.7" width="2.5" height="0.9" fill="#2a1436" fill-opacity="0.6"/>
<rect x="468.9" y="135.7" width="2.3" height="0.9" fill="#2a1436" fill-opacity="0.6"/>
<rect x="473.6" y="135.7" width="2.4" height="0.9" fill="#2a1436" fill-opacity="0.6"/>
<rect x="477.5" y="131.9" width="2.3" height="0.9" fill="#2a1436" fill-opacity="0.6"/>
<rect x="472.0" y="131.9" width="1.4" height="0.9" fill="#2a1436" fill-opacity="0.6"/>
<rect x="467.5" y="131.9" width="2.9" height="0.9" fill="#2a1436" fill-opacity="0.6"/>
<rect x="469.8" y="131.9" width="2.5" height="0.9" fill="#2a1436" fill-opacity="0.6"/>
<rect x="470.1" y="131.9" width="2.7" height="0.9" fill="#2a1436" fill-opacity="0.6"/>
<rect x="474.1" y="131.9" width="1.7" height="0.9" fill="#2a1436" fill-opacity="0.6"/>
<rect x="473.4" y="124.3" width="1.6" height="0.8" fill="#333" fill-opacity="0.7"/>
<rect x="473.6" y="120.5" width="1.2" height="0.8" fill="#333" fill-opacity="0.7"/>
<rect x="473.4" y="116.7" width="1.6" height="0.8" fill="#333" fill-opacity="0.7"/>
<rect x="473.4" y="112.9" width="1.6" height="0.8" fill="#333" fill-opacity="0.7"/>
<rect x="472.5" y="109.1" width="3.4" height="0.8" fill="#333" fill-opacity="0.7"/>
<rect x="473.6" y="105.3" width="1.2" height="0.8" fill="#333" fill-opacity="0.7"/>
<rect x="473.0" y="101.5" width="2.4" height="0.8" fill="#333" fill-opacity="0.7"/>
<rect x="473.4" y="97.7" width="1.6" height="0.8" fill="#333" fill-opacity="0.7"/>
<line x1="466.0" y1="144.4" x2="481.9" y2="144.4" stroke="#1e0f26" stroke-width="1.4" />
<line x1="493.4" y1="57" x2="493.4" y2="174.2" stroke="#222" stroke-width="1.2" stroke-dasharray="1 0.9"/>
<line x1="489.7" y1="57" x2="497.09999999999997" y2="57" stroke="#333" stroke-width="1.3" />
<line x1="489.7" y1="174.2" x2="497.09999999999997" y2="174.2" stroke="#333" stroke-width="1.3" />
<rect x="485.2" y="108.6" width="15.900000000000034" height="35.80000000000001" fill="#cdcdd3"/>
<rect x="492.6" y="170.0" width="1.6" height="0.8" fill="#333" fill-opacity="0.7"/>
<rect x="492.8" y="166.2" width="1.2" height="0.8" fill="#333" fill-opacity="0.7"/>
<rect x="492.8" y="162.4" width="1.2" height="0.8" fill="#333" fill-opacity="0.7"/>
<rect x="492.2" y="158.6" width="2.4" height="0.8" fill="#333" fill-opacity="0.7"/>
<rect x="491.7" y="154.8" width="3.4" height="0.8" fill="#333" fill-opacity="0.7"/>
<rect x="491.7" y="151.0" width="3.4" height="0.8" fill="#333" fill-opacity="0.7"/>
<rect x="492.6" y="147.2" width="1.6" height="0.8" fill="#333" fill-opacity="0.7"/>
<rect x="486.8" y="139.5" width="1.7" height="0.9" fill="#666" fill-opacity="0.6"/>
<rect x="492.5" y="139.5" width="3.0" height="0.9" fill="#666" fill-opacity="0.6"/>
<rect x="487.3" y="139.5" width="1.4" height="0.9" fill="#666" fill-opacity="0.6"/>
<rect x="497.9" y="135.7" width="2.4" height="0.9" fill="#666" fill-opacity="0.6"/>
<rect x="494.4" y="135.7" width="2.3" height="0.9" fill="#666" fill-opacity="0.6"/>
<rect x="487.9" y="135.7" width="1.3" height="0.9" fill="#666" fill-opacity="0.6"/>
<rect x="486.4" y="135.7" width="2.8" height="0.9" fill="#666" fill-opacity="0.6"/>
<rect x="494.5" y="135.7" width="2.9" height="0.9" fill="#666" fill-opacity="0.6"/>
<rect x="486.5" y="135.7" width="2.3" height="0.9" fill="#666" fill-opacity="0.6"/>
<rect x="487.0" y="131.9" width="1.8" height="0.9" fill="#666" fill-opacity="0.6"/>
<rect x="487.8" y="131.9" width="1.3" height="0.9" fill="#666" fill-opacity="0.6"/>
<rect x="491.6" y="131.9" width="1.9" height="0.9" fill="#666" fill-opacity="0.6"/>
<rect x="486.7" y="131.9" width="2.9" height="0.9" fill="#666" fill-opacity="0.6"/>
<rect x="495.0" y="131.9" width="1.4" height="0.9" fill="#666" fill-opacity="0.6"/>
<rect x="497.7" y="131.9" width="1.8" height="0.9" fill="#666" fill-opacity="0.6"/>
<rect x="494.4" y="128.1" width="2.8" height="0.9" fill="#666" fill-opacity="0.6"/>
<rect x="496.6" y="128.1" width="2.0" height="0.9" fill="#666" fill-opacity="0.6"/>
<rect x="495.6" y="128.1" width="2.8" height="0.9" fill="#666" fill-opacity="0.6"/>
<rect x="493.6" y="124.3" width="1.9" height="0.9" fill="#666" fill-opacity="0.6"/>
<rect x="493.1" y="124.3" width="2.3" height="0.9" fill="#666" fill-opacity="0.6"/>
<rect x="487.2" y="124.3" width="2.4" height="0.9" fill="#666" fill-opacity="0.6"/>
<rect x="496.7" y="120.5" width="2.5" height="0.9" fill="#666" fill-opacity="0.6"/>
<rect x="490.8" y="120.5" width="2.5" height="0.9" fill="#666" fill-opacity="0.6"/>
<rect x="493.1" y="120.5" width="2.0" height="0.9" fill="#666" fill-opacity="0.6"/>
<rect x="496.2" y="120.5" width="1.4" height="0.9" fill="#666" fill-opacity="0.6"/>
<rect x="495.1" y="120.5" width="1.3" height="0.9" fill="#666" fill-opacity="0.6"/>
<rect x="491.9" y="116.7" width="1.6" height="0.9" fill="#666" fill-opacity="0.6"/>
<rect x="494.5" y="116.7" width="2.1" height="0.9" fill="#666" fill-opacity="0.6"/>
<rect x="493.5" y="116.7" width="2.9" height="0.9" fill="#666" fill-opacity="0.6"/>
<rect x="496.9" y="112.9" width="1.9" height="0.9" fill="#666" fill-opacity="0.6"/>
<rect x="487.9" y="112.9" width="2.3" height="0.9" fill="#666" fill-opacity="0.6"/>
<rect x="492.4" y="112.9" width="2.6" height="0.9" fill="#666" fill-opacity="0.6"/>
<rect x="490.3" y="112.9" width="2.9" height="0.9" fill="#666" fill-opacity="0.6"/>
<rect x="492.1" y="112.9" width="1.6" height="0.9" fill="#666" fill-opacity="0.6"/>
<rect x="494.1" y="109.1" width="1.6" height="0.9" fill="#666" fill-opacity="0.6"/>
<rect x="491.3" y="109.1" width="2.7" height="0.9" fill="#666" fill-opacity="0.6"/>
<rect x="497.1" y="109.1" width="2.8" height="0.9" fill="#666" fill-opacity="0.6"/>
<rect x="490.8" y="109.1" width="2.2" height="0.9" fill="#666" fill-opacity="0.6"/>
<rect x="490.0" y="109.1" width="1.4" height="0.9" fill="#666" fill-opacity="0.6"/>
<rect x="492.1" y="109.1" width="2.7" height="0.9" fill="#666" fill-opacity="0.6"/>
<rect x="492.8" y="105.3" width="1.2" height="0.8" fill="#333" fill-opacity="0.7"/>
<rect x="492.8" y="101.5" width="1.2" height="0.8" fill="#333" fill-opacity="0.7"/>
<rect x="492.2" y="97.7" width="2.4" height="0.8" fill="#333" fill-opacity="0.7"/>
<rect x="492.6" y="93.9" width="1.6" height="0.8" fill="#333" fill-opacity="0.7"/>
<rect x="492.8" y="90.1" width="1.2" height="0.8" fill="#333" fill-opacity="0.7"/>
<rect x="491.7" y="86.3" width="3.4" height="0.8" fill="#333" fill-opacity="0.7"/>
<rect x="491.7" y="82.5" width="3.4" height="0.8" fill="#333" fill-opacity="0.7"/>
<rect x="492.2" y="78.7" width="2.4" height="0.8" fill="#333" fill-opacity="0.7"/>
<rect x="492.6" y="74.9" width="1.6" height="0.8" fill="#333" fill-opacity="0.7"/>
<rect x="491.7" y="71.1" width="3.4" height="0.8" fill="#333" fill-opacity="0.7"/>
<rect x="491.7" y="67.3" width="3.4" height="0.8" fill="#333" fill-opacity="0.7"/>
<rect x="491.7" y="63.4" width="3.4" height="0.8" fill="#333" fill-opacity="0.7"/>
<rect x="492.2" y="59.6" width="2.4" height="0.8" fill="#333" fill-opacity="0.7"/>
<line x1="485.2" y1="133.4" x2="501.1" y2="133.4" stroke="#333" stroke-width="1.4" />
<path d="M432,144 L438,144 M435,142 L435,146" stroke="#3a5a8a" stroke-width="0.7"/>
<path d="M432,170.4 L438,170.4 M435,168.4 L435,172.4" stroke="#3a6a3a" stroke-width="0.7"/>
<path d="M451.4,134 L457.4,134 M454.4,132 L454.4,136" stroke="#555" stroke-width="0.7"/>
<path d="M451.4,162 L457.4,162 M454.4,160 L454.4,164" stroke="#555" stroke-width="0.7"/>
<path d="M471.2,110 L477.2,110 M474.2,108 L474.2,112" stroke="#555" stroke-width="0.7"/>
<path d="M471.2,164 L477.2,164 M474.2,162 L474.2,166" stroke="#555" stroke-width="0.7"/>
<path d="M490.4,90 L496.4,90 M493.4,88 L493.4,92" stroke="#555" stroke-width="0.7"/>
<path d="M490.4,150 L496.4,150 M493.4,148 L493.4,152" stroke="#555" stroke-width="0.7"/>
<circle cx="435" cy="121.5" r="0.5" fill="#555"/>
<circle cx="454.6" cy="106" r="0.5" fill="#555"/>
<circle cx="454.6" cy="110.6" r="0.5" fill="#555"/>
<circle cx="454.6" cy="116" r="0.5" fill="#555"/>
<circle cx="472.5" cy="45.2" r="0.5" fill="#555"/>
<circle cx="474.5" cy="45.2" r="0.5" fill="#555"/>
<circle cx="493.3" cy="41.6" r="0.5" fill="#555"/>
<text x="448.0" y="68.7" font-family='"Liberation Sans", sans-serif' font-size="8.8" fill="#222" stroke="#222" stroke-width="0.15" textLength="35.3" lengthAdjust="spacingAndGlyphs"><tspan font-style="italic">P</tspan> = .0000</text>
<line x1="434.9" y1="70.8" x2="493.0" y2="70.8" stroke="#555" stroke-width="0.8" />
<line x1="434.9" y1="70.8" x2="434.9" y2="73" stroke="#555" stroke-width="0.8" />
<text x="434.0" y="89.2" font-family='"Liberation Sans", sans-serif' font-size="8.8" fill="#222" stroke="#222" stroke-width="0.15" textLength="34.6" lengthAdjust="spacingAndGlyphs"><tspan font-style="italic">P</tspan> = .0013</text>
<line x1="435" y1="91.8" x2="474.3" y2="91.8" stroke="#555" stroke-width="0.8" />
<line x1="435" y1="91.8" x2="435" y2="94" stroke="#555" stroke-width="0.8" />
<line x1="474.3" y1="91.8" x2="474.3" y2="95" stroke="#555" stroke-width="0.8" />
<text x="440.6" y="124.0" font-family='"Liberation Sans", sans-serif' font-size="8.4" font-weight="normal" font-style="normal" text-anchor="start" fill="#222" stroke="#222" stroke-width="0.15">ns</text>
<line x1="435" y1="125.9" x2="454.4" y2="125.9" stroke="#555" stroke-width="0.8" />
<line x1="435" y1="125.9" x2="435" y2="128" stroke="#555" stroke-width="0.8" />
<line x1="454.4" y1="125.9" x2="454.4" y2="128.5" stroke="#555" stroke-width="0.8" />
<line x1="271.5" y1="200.0" x2="271.5" y2="281.3" stroke="#3a3a3a" stroke-width="1.2" />
<line x1="270.9" y1="280.8" x2="508.8" y2="280.8" stroke="#3a3a3a" stroke-width="1.2" />
<line x1="268.5" y1="280.8" x2="271.5" y2="280.8" stroke="#3a3a3a" stroke-width="1.2" />
<text x="266.1" y="283.65000000000003" font-family='"Liberation Sans", sans-serif' font-size="8.2" font-weight="normal" font-style="normal" text-anchor="end" fill="#2a2a2a" stroke="#2a2a2a" stroke-width="0.22">0</text>
<line x1="268.5" y1="260.67" x2="271.5" y2="260.67" stroke="#3a3a3a" stroke-width="1.2" />
<text x="266.1" y="263.52000000000004" font-family='"Liberation Sans", sans-serif' font-size="8.2" font-weight="normal" font-style="normal" text-anchor="end" fill="#2a2a2a" stroke="#2a2a2a" stroke-width="0.22">10</text>
<line x1="268.5" y1="240.54000000000002" x2="271.5" y2="240.54000000000002" stroke="#3a3a3a" stroke-width="1.2" />
<text x="266.1" y="243.39000000000001" font-family='"Liberation Sans", sans-serif' font-size="8.2" font-weight="normal" font-style="normal" text-anchor="end" fill="#2a2a2a" stroke="#2a2a2a" stroke-width="0.22">20</text>
<line x1="268.5" y1="220.41000000000003" x2="271.5" y2="220.41000000000003" stroke="#3a3a3a" stroke-width="1.2" />
<text x="266.1" y="223.26000000000002" font-family='"Liberation Sans", sans-serif' font-size="8.2" font-weight="normal" font-style="normal" text-anchor="end" fill="#2a2a2a" stroke="#2a2a2a" stroke-width="0.22">30</text>
<line x1="268.5" y1="200.28000000000003" x2="271.5" y2="200.28000000000003" stroke="#3a3a3a" stroke-width="1.2" />
<text x="266.1" y="203.13000000000002" font-family='"Liberation Sans", sans-serif' font-size="8.2" font-weight="normal" font-style="normal" text-anchor="end" fill="#2a2a2a" stroke="#2a2a2a" stroke-width="0.22">40</text>
<line x1="271.8" y1="280.8" x2="271.8" y2="283.3" stroke="#3a3a3a" stroke-width="1.0" />
<text x="271.8" y="294.0" font-family='"Liberation Sans", sans-serif' font-size="8.2" font-weight="normal" font-style="normal" text-anchor="middle" fill="#2a2a2a" stroke="#2a2a2a" stroke-width="0.22">0</text>
<line x1="300.90000000000003" y1="280.8" x2="300.90000000000003" y2="283.3" stroke="#3a3a3a" stroke-width="1.0" />
<text x="300.90000000000003" y="294.0" font-family='"Liberation Sans", sans-serif' font-size="8.2" font-weight="normal" font-style="normal" text-anchor="middle" fill="#2a2a2a" stroke="#2a2a2a" stroke-width="0.22">2</text>
<line x1="330.0" y1="280.8" x2="330.0" y2="283.3" stroke="#3a3a3a" stroke-width="1.0" />
<text x="330.0" y="294.0" font-family='"Liberation Sans", sans-serif' font-size="8.2" font-weight="normal" font-style="normal" text-anchor="middle" fill="#2a2a2a" stroke="#2a2a2a" stroke-width="0.22">4</text>
<line x1="359.1" y1="280.8" x2="359.1" y2="283.3" stroke="#3a3a3a" stroke-width="1.0" />
<text x="359.1" y="294.0" font-family='"Liberation Sans", sans-serif' font-size="8.2" font-weight="normal" font-style="normal" text-anchor="middle" fill="#2a2a2a" stroke="#2a2a2a" stroke-width="0.22">6</text>
<line x1="388.20000000000005" y1="280.8" x2="388.20000000000005" y2="283.3" stroke="#3a3a3a" stroke-width="1.0" />
<text x="388.20000000000005" y="294.0" font-family='"Liberation Sans", sans-serif' font-size="8.2" font-weight="normal" font-style="normal" text-anchor="middle" fill="#2a2a2a" stroke="#2a2a2a" stroke-width="0.22">8</text>
<line x1="417.3" y1="280.8" x2="417.3" y2="283.3" stroke="#3a3a3a" stroke-width="1.0" />
<text x="417.3" y="294.0" font-family='"Liberation Sans", sans-serif' font-size="8.2" font-weight="normal" font-style="normal" text-anchor="middle" fill="#2a2a2a" stroke="#2a2a2a" stroke-width="0.22">10</text>
<line x1="446.40000000000003" y1="280.8" x2="446.40000000000003" y2="283.3" stroke="#3a3a3a" stroke-width="1.0" />
<text x="446.40000000000003" y="294.0" font-family='"Liberation Sans", sans-serif' font-size="8.2" font-weight="normal" font-style="normal" text-anchor="middle" fill="#2a2a2a" stroke="#2a2a2a" stroke-width="0.22">12</text>
<line x1="475.5" y1="280.8" x2="475.5" y2="283.3" stroke="#3a3a3a" stroke-width="1.0" />
<text x="475.5" y="294.0" font-family='"Liberation Sans", sans-serif' font-size="8.2" font-weight="normal" font-style="normal" text-anchor="middle" fill="#2a2a2a" stroke="#2a2a2a" stroke-width="0.22">14</text>
<line x1="504.6" y1="280.8" x2="504.6" y2="283.3" stroke="#3a3a3a" stroke-width="1.0" />
<text x="504.6" y="294.0" font-family='"Liberation Sans", sans-serif' font-size="8.2" font-weight="normal" font-style="normal" text-anchor="middle" fill="#2a2a2a" stroke="#2a2a2a" stroke-width="0.22">16</text>
<text x="236.3" y="195.9" font-family='"Liberation Sans", sans-serif' font-size="10.4" font-weight="bold" font-style="normal" text-anchor="start" fill="#000" >E</text>
<text x="0" y="0" transform="translate(249.6,239.2) rotate(-90)" font-family='"Liberation Sans", sans-serif' font-size="8.2" font-weight="bold" text-anchor="middle" fill="#222" textLength="62.5" lengthAdjust="spacingAndGlyphs">Mitochondria/platelet</text>
<text x="375.7" y="309.6" font-family='"Liberation Sans", sans-serif' font-size="8.6" font-weight="bold" fill="#222" textLength="26" lengthAdjust="spacingAndGlyphs">Area µm</text>
<text x="402.0" y="306.0" font-family='"Liberation Sans", sans-serif' font-size="5.6" font-weight="bold" fill="#222">2</text>
<circle cx="277.3" cy="206.5" r="3" fill="#f3d37c"/>
<text x="283.6" y="209.3" font-family='"Liberation Sans", sans-serif' font-size="7.7" font-weight="normal" font-style="normal" text-anchor="start" fill="#222" stroke="#222" stroke-width="0.18">0 min D1</text>
<circle cx="277.3" cy="215.2" r="3" fill="#c0873a"/>
<text x="283.6" y="218.0" font-family='"Liberation Sans", sans-serif' font-size="7.7" font-weight="normal" font-style="normal" text-anchor="start" fill="#222" stroke="#222" stroke-width="0.18">0 min D2</text>
<circle cx="328.7" cy="277.1" r="1.3" fill="#a86c1a" fill-opacity="0.9"/>
<circle cx="365.9" cy="280.0" r="1.3" fill="#eca024" fill-opacity="0.9"/>
<circle cx="374.3" cy="266.2" r="1.3" fill="#a86c1a" fill-opacity="0.9"/>
<circle cx="398.6" cy="271.0" r="1.3" fill="#f7d676" fill-opacity="0.9"/>
<circle cx="374.2" cy="273.5" r="1.3" fill="#a86c1a" fill-opacity="0.9"/>
<circle cx="360.8" cy="277.8" r="1.3" fill="#f7d676" fill-opacity="0.9"/>
<circle cx="303.0" cy="278.0" r="1.3" fill="#f7d676" fill-opacity="0.9"/>
<circle cx="366.6" cy="277.4" r="1.3" fill="#f7d676" fill-opacity="0.9"/>
<circle cx="381.8" cy="275.3" r="1.3" fill="#f7d676" fill-opacity="0.9"/>
<circle cx="348.3" cy="273.6" r="1.3" fill="#f7d676" fill-opacity="0.9"/>
<circle cx="371.9" cy="274.0" r="1.3" fill="#eca024" fill-opacity="0.9"/>
<circle cx="378.6" cy="275.9" r="1.3" fill="#f7d676" fill-opacity="0.9"/>
<circle cx="377.1" cy="276.4" r="1.3" fill="#a86c1a" fill-opacity="0.9"/>
<circle cx="355.7" cy="271.1" r="1.3" fill="#eca024" fill-opacity="0.9"/>
<circle cx="391.2" cy="276.9" r="1.3" fill="#f7d676" fill-opacity="0.9"/>
<circle cx="356.5" cy="277.5" r="1.3" fill="#f7d676" fill-opacity="0.9"/>
<circle cx="322.9" cy="274.7" r="1.3" fill="#c8a030" fill-opacity="0.9"/>
<circle cx="384.3" cy="271.7" r="1.3" fill="#eca024" fill-opacity="0.9"/>
<circle cx="380.1" cy="275.0" r="1.3" fill="#f7d676" fill-opacity="0.9"/>
<circle cx="389.2" cy="267.1" r="1.3" fill="#a86c1a" fill-opacity="0.9"/>
<circle cx="379.4" cy="271.7" r="1.3" fill="#eca024" fill-opacity="0.9"/>
<circle cx="333.0" cy="270.9" r="1.3" fill="#a86c1a" fill-opacity="0.9"/>
<circle cx="364.4" cy="271.2" r="1.3" fill="#eca024" fill-opacity="0.9"/>
<circle cx="358.1" cy="268.9" r="1.3" fill="#a86c1a" fill-opacity="0.9"/>
<circle cx="352.6" cy="272.5" r="1.3" fill="#a86c1a" fill-opacity="0.9"/>
<circle cx="426.1" cy="270.8" r="1.3" fill="#a86c1a" fill-opacity="0.9"/>
<circle cx="359.2" cy="260.8" r="1.3" fill="#a86c1a" fill-opacity="0.9"/>
<circle cx="343.9" cy="269.4" r="1.3" fill="#f7d676" fill-opacity="0.9"/>
<circle cx="366.1" cy="271.9" r="1.3" fill="#eca024" fill-opacity="0.9"/>
<circle cx="408.8" cy="278.9" r="1.3" fill="#a86c1a" fill-opacity="0.9"/>
<circle cx="362.5" cy="255.0" r="1.3" fill="#f7d676" fill-opacity="0.9"/>
<circle cx="393.3" cy="265.0" r="1.3" fill="#eca024" fill-opacity="0.9"/>
<circle cx="390.3" cy="265.1" r="1.3" fill="#f7d676" fill-opacity="0.9"/>
<circle cx="376.5" cy="264.8" r="1.3" fill="#eca024" fill-opacity="0.9"/>
<circle cx="397.8" cy="269.7" r="1.3" fill="#f7d676" fill-opacity="0.9"/>
<circle cx="308.0" cy="276.0" r="1.3" fill="#f7d676" fill-opacity="0.9"/>
<circle cx="398.7" cy="274.8" r="1.3" fill="#f7d676" fill-opacity="0.9"/>
<circle cx="346.7" cy="266.7" r="1.3" fill="#a86c1a" fill-opacity="0.9"/>
<circle cx="413.1" cy="270.6" r="1.3" fill="#f7d676" fill-opacity="0.9"/>
<circle cx="400.2" cy="266.1" r="1.3" fill="#eca024" fill-opacity="0.9"/>
<circle cx="369.6" cy="272.9" r="1.3" fill="#a86c1a" fill-opacity="0.9"/>
<circle cx="396.6" cy="270.8" r="1.3" fill="#a86c1a" fill-opacity="0.9"/>
<circle cx="382.0" cy="268.6" r="1.3" fill="#f7d676" fill-opacity="0.9"/>
<circle cx="341.9" cy="274.0" r="1.3" fill="#eca024" fill-opacity="0.9"/>
<circle cx="404.5" cy="269.4" r="1.3" fill="#a86c1a" fill-opacity="0.9"/>
<circle cx="383.6" cy="270.3" r="1.3" fill="#f7d676" fill-opacity="0.9"/>
<circle cx="395.8" cy="272.5" r="1.3" fill="#f7d676" fill-opacity="0.9"/>
<circle cx="433.9" cy="262.5" r="1.3" fill="#a86c1a" fill-opacity="0.9"/>
<circle cx="343.0" cy="272.1" r="1.3" fill="#eca024" fill-opacity="0.9"/>
<circle cx="358.1" cy="274.0" r="1.3" fill="#a86c1a" fill-opacity="0.9"/>
<circle cx="388.1" cy="276.9" r="1.3" fill="#a86c1a" fill-opacity="0.9"/>
<circle cx="347.7" cy="276.9" r="1.3" fill="#a86c1a" fill-opacity="0.9"/>
<circle cx="376.8" cy="267.8" r="1.3" fill="#eca024" fill-opacity="0.9"/>
<circle cx="387.1" cy="270.6" r="1.3" fill="#f7d676" fill-opacity="0.9"/>
<circle cx="354.0" cy="276.9" r="1.3" fill="#a86c1a" fill-opacity="0.9"/>
<circle cx="371.2" cy="271.7" r="1.3" fill="#eca024" fill-opacity="0.9"/>
<circle cx="384.6" cy="266.0" r="1.3" fill="#eca024" fill-opacity="0.9"/>
<circle cx="398.1" cy="275.7" r="1.3" fill="#f7d676" fill-opacity="0.9"/>
<circle cx="353.5" cy="268.8" r="1.3" fill="#eca024" fill-opacity="0.9"/>
<circle cx="348.5" cy="277.2" r="1.3" fill="#f7d676" fill-opacity="0.9"/>
<circle cx="339.1" cy="268.5" r="1.3" fill="#eca024" fill-opacity="0.9"/>
<circle cx="342.0" cy="269.0" r="1.3" fill="#eca024" fill-opacity="0.9"/>
<circle cx="396.5" cy="276.7" r="1.3" fill="#eca024" fill-opacity="0.9"/>
<circle cx="342.0" cy="271.5" r="1.3" fill="#eca024" fill-opacity="0.9"/>
<circle cx="359.8" cy="277.0" r="1.3" fill="#f7d676" fill-opacity="0.9"/>
<circle cx="400.4" cy="272.3" r="1.3" fill="#f7d676" fill-opacity="0.9"/>
<circle cx="350.0" cy="265.4" r="1.3" fill="#eca024" fill-opacity="0.9"/>
<circle cx="384.6" cy="259.0" r="1.3" fill="#f7d676" fill-opacity="0.9"/>
<circle cx="355.2" cy="271.7" r="1.3" fill="#eca024" fill-opacity="0.9"/>
<circle cx="385.4" cy="277.2" r="1.3" fill="#f7d676" fill-opacity="0.9"/>
<circle cx="399.4" cy="268.3" r="1.3" fill="#eca024" fill-opacity="0.9"/>
<circle cx="342.1" cy="275.6" r="1.3" fill="#f7d676" fill-opacity="0.9"/>
<circle cx="343.4" cy="277.5" r="1.3" fill="#a86c1a" fill-opacity="0.9"/>
<circle cx="373.7" cy="262.5" r="1.3" fill="#a86c1a" fill-opacity="0.9"/>
<circle cx="381.1" cy="254.7" r="1.3" fill="#f7d676" fill-opacity="0.9"/>
<circle cx="417.4" cy="279.2" r="1.3" fill="#f7d676" fill-opacity="0.9"/>
<circle cx="355.9" cy="274.4" r="1.3" fill="#eca024" fill-opacity="0.9"/>
<circle cx="337.9" cy="271.7" r="1.3" fill="#f7d676" fill-opacity="0.9"/>
<circle cx="386.3" cy="267.0" r="1.3" fill="#a86c1a" fill-opacity="0.9"/>
<circle cx="355.1" cy="279.5" r="1.3" fill="#a86c1a" fill-opacity="0.9"/>
<circle cx="366.2" cy="274.6" r="1.3" fill="#eca024" fill-opacity="0.9"/>
<circle cx="363.8" cy="246.9" r="1.3" fill="#a86c1a" fill-opacity="0.9"/>
<circle cx="371.9" cy="277.5" r="1.3" fill="#a86c1a" fill-opacity="0.9"/>
<circle cx="339.9" cy="271.9" r="1.3" fill="#eca024" fill-opacity="0.9"/>
<circle cx="328.3" cy="277.1" r="1.3" fill="#f7d676" fill-opacity="0.9"/>
<circle cx="399.3" cy="274.8" r="1.3" fill="#f7d676" fill-opacity="0.9"/>
<circle cx="384.9" cy="270.8" r="1.3" fill="#f7d676" fill-opacity="0.9"/>
<circle cx="393.3" cy="268.5" r="1.3" fill="#f7d676" fill-opacity="0.9"/>
<circle cx="349.8" cy="273.2" r="1.3" fill="#f7d676" fill-opacity="0.9"/>
<circle cx="391.1" cy="269.7" r="1.3" fill="#f7d676" fill-opacity="0.9"/>
<circle cx="401.9" cy="274.6" r="1.3" fill="#a86c1a" fill-opacity="0.9"/>
<circle cx="353.5" cy="273.5" r="1.3" fill="#a86c1a" fill-opacity="0.9"/>
<circle cx="396.7" cy="270.3" r="1.3" fill="#f7d676" fill-opacity="0.9"/>
<circle cx="381.5" cy="270.4" r="1.3" fill="#f7d676" fill-opacity="0.9"/>
<circle cx="318.1" cy="273.3" r="1.3" fill="#a86c1a" fill-opacity="0.9"/>
<circle cx="376.8" cy="264.2" r="1.3" fill="#eca024" fill-opacity="0.9"/>
<circle cx="405.7" cy="274.4" r="1.3" fill="#f7d676" fill-opacity="0.9"/>
<circle cx="371.9" cy="269.4" r="1.3" fill="#eca024" fill-opacity="0.9"/>
<circle cx="345.4" cy="272.3" r="1.3" fill="#eca024" fill-opacity="0.9"/>
<circle cx="375.3" cy="275.9" r="1.3" fill="#eca024" fill-opacity="0.9"/>
<circle cx="313.0" cy="273.8" r="1.3" fill="#f7d676" fill-opacity="0.9"/>
<circle cx="382.5" cy="266.8" r="1.3" fill="#eca024" fill-opacity="0.9"/>
<circle cx="358.7" cy="271.0" r="1.3" fill="#a86c1a" fill-opacity="0.9"/>
<circle cx="383.7" cy="266.0" r="1.3" fill="#a86c1a" fill-opacity="0.9"/>
<circle cx="336.2" cy="278.7" r="1.3" fill="#a86c1a" fill-opacity="0.9"/>
<circle cx="337.9" cy="272.5" r="1.3" fill="#eca024" fill-opacity="0.9"/>
<circle cx="389.8" cy="277.2" r="1.3" fill="#a86c1a" fill-opacity="0.9"/>
<circle cx="327.2" cy="265.1" r="1.3" fill="#f7d676" fill-opacity="0.9"/>
<circle cx="393.8" cy="274.8" r="1.3" fill="#eca024" fill-opacity="0.9"/>
<circle cx="344.5" cy="268.5" r="1.3" fill="#eca024" fill-opacity="0.9"/>
<circle cx="360.5" cy="278.2" r="1.3" fill="#f7d676" fill-opacity="0.9"/>
<circle cx="367.0" cy="271.5" r="1.3" fill="#f7d676" fill-opacity="0.9"/>
<circle cx="383.2" cy="269.6" r="1.3" fill="#f7d676" fill-opacity="0.9"/>
<circle cx="350.6" cy="259.0" r="1.3" fill="#a86c1a" fill-opacity="0.9"/>
<circle cx="380.9" cy="255.0" r="1.3" fill="#f7d676" fill-opacity="0.9"/>
<circle cx="399.2" cy="270.8" r="1.3" fill="#eca024" fill-opacity="0.9"/>
<circle cx="336.3" cy="279.0" r="1.3" fill="#a86c1a" fill-opacity="0.9"/>
<circle cx="346.0" cy="267.1" r="1.3" fill="#a86c1a" fill-opacity="0.9"/>
<circle cx="386.1" cy="275.0" r="1.3" fill="#f7d676" fill-opacity="0.9"/>
<circle cx="378.8" cy="278.6" r="1.3" fill="#eca024" fill-opacity="0.9"/>
<circle cx="312.8" cy="279.0" r="1.3" fill="#a86c1a" fill-opacity="0.9"/>
<circle cx="347.7" cy="267.1" r="1.3" fill="#eca024" fill-opacity="0.9"/>
<circle cx="337.2" cy="277.0" r="1.3" fill="#f7d676" fill-opacity="0.9"/>
<circle cx="343.1" cy="270.0" r="1.3" fill="#eca024" fill-opacity="0.9"/>
<circle cx="338.4" cy="279.2" r="1.3" fill="#eca024" fill-opacity="0.9"/>
<circle cx="400.6" cy="274.9" r="1.3" fill="#f7d676" fill-opacity="0.9"/>
<circle cx="361.5" cy="270.6" r="1.3" fill="#f7d676" fill-opacity="0.9"/>
<circle cx="395.8" cy="257.3" r="1.3" fill="#f7d676" fill-opacity="0.9"/>
<circle cx="360.0" cy="275.9" r="1.3" fill="#f7d676" fill-opacity="0.9"/>
<circle cx="389.8" cy="272.9" r="1.3" fill="#a86c1a" fill-opacity="0.9"/>
<circle cx="398.4" cy="266.8" r="1.3" fill="#a86c1a" fill-opacity="0.9"/>
<circle cx="338.8" cy="279.0" r="1.3" fill="#a86c1a" fill-opacity="0.9"/>
<line x1="300" y1="279" x2="396" y2="259" stroke="#f3d070" stroke-width="0.8" stroke-dasharray="1 1"/>
<line x1="318" y1="271.5" x2="434" y2="270" stroke="#c89040" stroke-width="0.8" stroke-dasharray="0.8 1"/>
<text x="398.8" y="260.3" font-family='"Liberation Sans", sans-serif' font-size="8.4" fill="#222" stroke="#222" stroke-width="0.15">R<tspan font-size="5.4" dy="-3.4">2</tspan><tspan dy="3.4"> = 0,1223</tspan></text>
<text x="435.6" y="272.3" font-family='"Liberation Sans", sans-serif' font-size="8.4" fill="#222" stroke="#222" stroke-width="0.15">R<tspan font-size="5.4" dy="-3.4">2</tspan><tspan dy="3.4"> = 0,0322</tspan></text>
<line x1="272.0" y1="327.3" x2="272.0" y2="408.9" stroke="#3a3a3a" stroke-width="1.2" />
<line x1="271.4" y1="408.4" x2="509.0" y2="408.4" stroke="#3a3a3a" stroke-width="1.2" />
<line x1="269.0" y1="408.4" x2="272.0" y2="408.4" stroke="#3a3a3a" stroke-width="1.2" />
<text x="266.6" y="411.25" font-family='"Liberation Sans", sans-serif' font-size="8.2" font-weight="normal" font-style="normal" text-anchor="end" fill="#2a2a2a" stroke="#2a2a2a" stroke-width="0.22">0</text>
<line x1="269.0" y1="388.27" x2="272.0" y2="388.27" stroke="#3a3a3a" stroke-width="1.2" />
<text x="266.6" y="391.12" font-family='"Liberation Sans", sans-serif' font-size="8.2" font-weight="normal" font-style="normal" text-anchor="end" fill="#2a2a2a" stroke="#2a2a2a" stroke-width="0.22">10</text>
<line x1="269.0" y1="368.14" x2="272.0" y2="368.14" stroke="#3a3a3a" stroke-width="1.2" />
<text x="266.6" y="370.99" font-family='"Liberation Sans", sans-serif' font-size="8.2" font-weight="normal" font-style="normal" text-anchor="end" fill="#2a2a2a" stroke="#2a2a2a" stroke-width="0.22">20</text>
<line x1="269.0" y1="348.01" x2="272.0" y2="348.01" stroke="#3a3a3a" stroke-width="1.2" />
<text x="266.6" y="350.86" font-family='"Liberation Sans", sans-serif' font-size="8.2" font-weight="normal" font-style="normal" text-anchor="end" fill="#2a2a2a" stroke="#2a2a2a" stroke-width="0.22">30</text>
<line x1="269.0" y1="327.88" x2="272.0" y2="327.88" stroke="#3a3a3a" stroke-width="1.2" />
<text x="266.6" y="330.73" font-family='"Liberation Sans", sans-serif' font-size="8.2" font-weight="normal" font-style="normal" text-anchor="end" fill="#2a2a2a" stroke="#2a2a2a" stroke-width="0.22">40</text>
<line x1="271.8" y1="408.4" x2="271.8" y2="410.9" stroke="#3a3a3a" stroke-width="1.0" />
<text x="271.8" y="421.59999999999997" font-family='"Liberation Sans", sans-serif' font-size="8.2" font-weight="normal" font-style="normal" text-anchor="middle" fill="#2a2a2a" stroke="#2a2a2a" stroke-width="0.22">0</text>
<line x1="300.90000000000003" y1="408.4" x2="300.90000000000003" y2="410.9" stroke="#3a3a3a" stroke-width="1.0" />
<text x="300.90000000000003" y="421.59999999999997" font-family='"Liberation Sans", sans-serif' font-size="8.2" font-weight="normal" font-style="normal" text-anchor="middle" fill="#2a2a2a" stroke="#2a2a2a" stroke-width="0.22">20</text>
<line x1="330.0" y1="408.4" x2="330.0" y2="410.9" stroke="#3a3a3a" stroke-width="1.0" />
<text x="330.0" y="421.59999999999997" font-family='"Liberation Sans", sans-serif' font-size="8.2" font-weight="normal" font-style="normal" text-anchor="middle" fill="#2a2a2a" stroke="#2a2a2a" stroke-width="0.22">40</text>
<line x1="359.1" y1="408.4" x2="359.1" y2="410.9" stroke="#3a3a3a" stroke-width="1.0" />
<text x="359.1" y="421.59999999999997" font-family='"Liberation Sans", sans-serif' font-size="8.2" font-weight="normal" font-style="normal" text-anchor="middle" fill="#2a2a2a" stroke="#2a2a2a" stroke-width="0.22">60</text>
<line x1="388.20000000000005" y1="408.4" x2="388.20000000000005" y2="410.9" stroke="#3a3a3a" stroke-width="1.0" />
<text x="388.20000000000005" y="421.59999999999997" font-family='"Liberation Sans", sans-serif' font-size="8.2" font-weight="normal" font-style="normal" text-anchor="middle" fill="#2a2a2a" stroke="#2a2a2a" stroke-width="0.22">80</text>
<line x1="417.3" y1="408.4" x2="417.3" y2="410.9" stroke="#3a3a3a" stroke-width="1.0" />
<text x="417.3" y="421.59999999999997" font-family='"Liberation Sans", sans-serif' font-size="8.2" font-weight="normal" font-style="normal" text-anchor="middle" fill="#2a2a2a" stroke="#2a2a2a" stroke-width="0.22">100</text>
<line x1="446.40000000000003" y1="408.4" x2="446.40000000000003" y2="410.9" stroke="#3a3a3a" stroke-width="1.0" />
<text x="446.40000000000003" y="421.59999999999997" font-family='"Liberation Sans", sans-serif' font-size="8.2" font-weight="normal" font-style="normal" text-anchor="middle" fill="#2a2a2a" stroke="#2a2a2a" stroke-width="0.22">120</text>
<line x1="475.5" y1="408.4" x2="475.5" y2="410.9" stroke="#3a3a3a" stroke-width="1.0" />
<text x="475.5" y="421.59999999999997" font-family='"Liberation Sans", sans-serif' font-size="8.2" font-weight="normal" font-style="normal" text-anchor="middle" fill="#2a2a2a" stroke="#2a2a2a" stroke-width="0.22">140</text>
<line x1="504.6" y1="408.4" x2="504.6" y2="410.9" stroke="#3a3a3a" stroke-width="1.0" />
<text x="504.6" y="421.59999999999997" font-family='"Liberation Sans", sans-serif' font-size="8.2" font-weight="normal" font-style="normal" text-anchor="middle" fill="#2a2a2a" stroke="#2a2a2a" stroke-width="0.22">160</text>
<text x="236.3" y="319.4" font-family='"Liberation Sans", sans-serif' font-size="10.4" font-weight="bold" font-style="normal" text-anchor="start" fill="#000" >F</text>
<text x="0" y="0" transform="translate(249.6,366.2) rotate(-90)" font-family='"Liberation Sans", sans-serif' font-size="8.2" font-weight="bold" text-anchor="middle" fill="#222" textLength="62.5" lengthAdjust="spacingAndGlyphs">Mitochondria/platelet</text>
<text x="375.7" y="437.0" font-family='"Liberation Sans", sans-serif' font-size="8.6" font-weight="bold" fill="#222" textLength="26" lengthAdjust="spacingAndGlyphs">Area µm</text>
<text x="402.0" y="433.4" font-family='"Liberation Sans", sans-serif' font-size="5.6" font-weight="bold" fill="#222">2</text>
<circle cx="277.3" cy="333.8" r="3" fill="#bdbdbd"/>
<text x="283.6" y="336.6" font-family='"Liberation Sans", sans-serif' font-size="7.7" font-weight="normal" font-style="normal" text-anchor="start" fill="#222" stroke="#222" stroke-width="0.18">60 min D1</text>
<circle cx="277.3" cy="342.1" r="3" fill="#333333"/>
<text x="283.6" y="344.90000000000003" font-family='"Liberation Sans", sans-serif' font-size="7.7" font-weight="normal" font-style="normal" text-anchor="start" fill="#222" stroke="#222" stroke-width="0.18">60 min D2</text>
<circle cx="315.4" cy="398.8" r="1.2" fill="#2a2a2a"/>
<circle cx="283.7" cy="405.7" r="1.2" fill="#b8b8b8"/>
<circle cx="277.5" cy="407.4" r="1.2" fill="#b8b8b8"/>
<circle cx="348.2" cy="386.1" r="1.2" fill="#b8b8b8"/>
<circle cx="280.8" cy="404.1" r="1.2" fill="#2a2a2a"/>
<circle cx="298.8" cy="399.4" r="1.2" fill="#2a2a2a"/>
<circle cx="289.0" cy="393.8" r="1.2" fill="#2a2a2a"/>
<circle cx="284.0" cy="399.8" r="1.2" fill="#2a2a2a"/>
<circle cx="306.6" cy="398.7" r="1.2" fill="#2a2a2a"/>
<circle cx="336.0" cy="383.5" r="1.2" fill="#2a2a2a"/>
<circle cx="283.6" cy="405.3" r="1.2" fill="#2a2a2a"/>
<circle cx="317.4" cy="389.0" r="1.2" fill="#b8b8b8"/>
<circle cx="312.7" cy="376.3" r="1.2" fill="#2a2a2a"/>
<circle cx="297.8" cy="404.1" r="1.2" fill="#b8b8b8"/>
<circle cx="361.0" cy="375.7" r="1.2" fill="#b8b8b8"/>
<circle cx="336.8" cy="386.2" r="1.2" fill="#b8b8b8"/>
<circle cx="302.0" cy="388.0" r="1.2" fill="#2a2a2a"/>
<circle cx="303.2" cy="398.4" r="1.2" fill="#2a2a2a"/>
<circle cx="368.8" cy="363.7" r="1.2" fill="#2a2a2a"/>
<circle cx="323.7" cy="390.7" r="1.2" fill="#b8b8b8"/>
<circle cx="315.5" cy="393.1" r="1.2" fill="#2a2a2a"/>
<circle cx="312.9" cy="398.3" r="1.2" fill="#2a2a2a"/>
<circle cx="283.7" cy="402.5" r="1.2" fill="#2a2a2a"/>
<circle cx="316.2" cy="395.1" r="1.2" fill="#b8b8b8"/>
<circle cx="293.7" cy="397.8" r="1.2" fill="#2a2a2a"/>
<circle cx="333.9" cy="378.4" r="1.2" fill="#b8b8b8"/>
<circle cx="291.1" cy="405.7" r="1.2" fill="#2a2a2a"/>
<circle cx="349.6" cy="353.0" r="1.2" fill="#2a2a2a"/>
<circle cx="285.7" cy="402.1" r="1.2" fill="#b8b8b8"/>
<circle cx="313.5" cy="386.8" r="1.2" fill="#b8b8b8"/>
<circle cx="301.7" cy="380.9" r="1.2" fill="#2a2a2a"/>
<circle cx="311.0" cy="388.4" r="1.2" fill="#b8b8b8"/>
<circle cx="285.9" cy="393.0" r="1.2" fill="#2a2a2a"/>
<circle cx="310.2" cy="387.9" r="1.2" fill="#2a2a2a"/>
<circle cx="277.3" cy="394.3" r="1.2" fill="#2a2a2a"/>
<circle cx="278.3" cy="407.4" r="1.2" fill="#2a2a2a"/>
<circle cx="294.2" cy="386.0" r="1.2" fill="#2a2a2a"/>
<circle cx="371.2" cy="343.1" r="1.2" fill="#2a2a2a"/>
<circle cx="373.3" cy="377.7" r="1.2" fill="#b8b8b8"/>
<circle cx="282.6" cy="402.6" r="1.2" fill="#2a2a2a"/>
<circle cx="285.4" cy="404.0" r="1.2" fill="#2a2a2a"/>
<circle cx="293.5" cy="395.3" r="1.2" fill="#2a2a2a"/>
<circle cx="303.0" cy="383.5" r="1.2" fill="#2a2a2a"/>
<circle cx="344.2" cy="359.4" r="1.2" fill="#2a2a2a"/>
<circle cx="306.2" cy="394.7" r="1.2" fill="#b8b8b8"/>
<circle cx="319.2" cy="393.1" r="1.2" fill="#b8b8b8"/>
<circle cx="304.9" cy="399.9" r="1.2" fill="#2a2a2a"/>
<circle cx="351.6" cy="377.7" r="1.2" fill="#b8b8b8"/>
<circle cx="317.6" cy="379.5" r="1.2" fill="#2a2a2a"/>
<circle cx="349.0" cy="365.0" r="1.2" fill="#b8b8b8"/>
<circle cx="284.4" cy="400.5" r="1.2" fill="#b8b8b8"/>
<circle cx="286.7" cy="395.7" r="1.2" fill="#2a2a2a"/>
<circle cx="341.3" cy="371.5" r="1.2" fill="#2a2a2a"/>
<circle cx="322.4" cy="383.5" r="1.2" fill="#2a2a2a"/>
<circle cx="329.0" cy="385.8" r="1.2" fill="#2a2a2a"/>
<circle cx="324.3" cy="391.6" r="1.2" fill="#b8b8b8"/>
<circle cx="305.5" cy="405.5" r="1.2" fill="#b8b8b8"/>
<circle cx="342.8" cy="367.4" r="1.2" fill="#2a2a2a"/>
<circle cx="349.0" cy="353.7" r="1.2" fill="#2a2a2a"/>
<circle cx="303.1" cy="390.0" r="1.2" fill="#b8b8b8"/>
<circle cx="344.8" cy="384.8" r="1.2" fill="#b8b8b8"/>
<circle cx="316.7" cy="384.7" r="1.2" fill="#b8b8b8"/>
<circle cx="296.3" cy="407.4" r="1.2" fill="#2a2a2a"/>
<circle cx="343.4" cy="359.6" r="1.2" fill="#2a2a2a"/>
<circle cx="283.7" cy="391.6" r="1.2" fill="#b8b8b8"/>
<circle cx="279.9" cy="395.9" r="1.2" fill="#2a2a2a"/>
<circle cx="309.2" cy="403.0" r="1.2" fill="#b8b8b8"/>
<circle cx="315.1" cy="397.9" r="1.2" fill="#b8b8b8"/>
<circle cx="287.7" cy="386.0" r="1.2" fill="#2a2a2a"/>
<circle cx="281.3" cy="403.7" r="1.2" fill="#2a2a2a"/>
<circle cx="292.8" cy="397.1" r="1.2" fill="#2a2a2a"/>
<circle cx="315.3" cy="394.7" r="1.2" fill="#2a2a2a"/>
<circle cx="291.2" cy="405.0" r="1.2" fill="#b8b8b8"/>
<circle cx="361.4" cy="377.3" r="1.2" fill="#b8b8b8"/>
<circle cx="331.3" cy="388.4" r="1.2" fill="#2a2a2a"/>
<circle cx="294.5" cy="403.8" r="1.2" fill="#b8b8b8"/>
<circle cx="291.0" cy="381.0" r="1.2" fill="#2a2a2a"/>
<circle cx="320.6" cy="396.1" r="1.2" fill="#b8b8b8"/>
<circle cx="332.6" cy="383.3" r="1.2" fill="#2a2a2a"/>
<circle cx="415.6" cy="380.2" r="1.2" fill="#b8b8b8"/>
<circle cx="327.0" cy="387.0" r="1.2" fill="#2a2a2a"/>
<circle cx="350.2" cy="365.4" r="1.2" fill="#b8b8b8"/>
<circle cx="303.2" cy="399.7" r="1.2" fill="#b8b8b8"/>
<circle cx="354.3" cy="357.5" r="1.2" fill="#2a2a2a"/>
<circle cx="283.5" cy="407.4" r="1.2" fill="#b8b8b8"/>
<circle cx="325.6" cy="376.3" r="1.2" fill="#b8b8b8"/>
<circle cx="360.0" cy="360.0" r="1.2" fill="#2a2a2a"/>
<circle cx="280.5" cy="396.3" r="1.2" fill="#2a2a2a"/>
<circle cx="330.8" cy="381.3" r="1.2" fill="#2a2a2a"/>
<circle cx="297.1" cy="397.0" r="1.2" fill="#2a2a2a"/>
<circle cx="326.3" cy="388.4" r="1.2" fill="#b8b8b8"/>
<circle cx="307.1" cy="398.2" r="1.2" fill="#b8b8b8"/>
<circle cx="309.3" cy="397.1" r="1.2" fill="#2a2a2a"/>
<circle cx="319.5" cy="382.2" r="1.2" fill="#2a2a2a"/>
<circle cx="317.4" cy="392.8" r="1.2" fill="#b8b8b8"/>
<circle cx="291.7" cy="402.7" r="1.2" fill="#2a2a2a"/>
<circle cx="338.3" cy="388.6" r="1.2" fill="#b8b8b8"/>
<circle cx="283.7" cy="398.0" r="1.2" fill="#2a2a2a"/>
<circle cx="286.1" cy="395.9" r="1.2" fill="#2a2a2a"/>
<circle cx="301.6" cy="396.1" r="1.2" fill="#2a2a2a"/>
<circle cx="304.7" cy="390.0" r="1.2" fill="#2a2a2a"/>
<circle cx="306.9" cy="392.2" r="1.2" fill="#2a2a2a"/>
<circle cx="310.2" cy="397.5" r="1.2" fill="#b8b8b8"/>
<circle cx="291.7" cy="398.7" r="1.2" fill="#2a2a2a"/>
<circle cx="376.4" cy="359.2" r="1.2" fill="#b8b8b8"/>
<circle cx="312.7" cy="391.6" r="1.2" fill="#2a2a2a"/>
<circle cx="300.4" cy="399.2" r="1.2" fill="#2a2a2a"/>
<circle cx="324.2" cy="389.6" r="1.2" fill="#2a2a2a"/>
<circle cx="321.6" cy="379.5" r="1.2" fill="#2a2a2a"/>
<circle cx="304.1" cy="402.1" r="1.2" fill="#b8b8b8"/>
<circle cx="285.4" cy="395.2" r="1.2" fill="#b8b8b8"/>
<circle cx="288.2" cy="392.6" r="1.2" fill="#2a2a2a"/>
<circle cx="295.3" cy="406.1" r="1.2" fill="#2a2a2a"/>
<circle cx="317.6" cy="367.4" r="1.2" fill="#2a2a2a"/>
<circle cx="321.3" cy="394.7" r="1.2" fill="#b8b8b8"/>
<circle cx="309.5" cy="364.2" r="1.2" fill="#b8b8b8"/>
<circle cx="297.5" cy="404.3" r="1.2" fill="#2a2a2a"/>
<circle cx="359.4" cy="381.5" r="1.2" fill="#b8b8b8"/>
<circle cx="503.5" cy="334.7" r="1.2" fill="#b8b8b8"/>
<circle cx="295.0" cy="398.0" r="1.2" fill="#2a2a2a"/>
<circle cx="328.8" cy="389.4" r="1.2" fill="#2a2a2a"/>
<circle cx="281.0" cy="404.0" r="1.2" fill="#b8b8b8"/>
<circle cx="306.7" cy="401.0" r="1.2" fill="#2a2a2a"/>
<circle cx="282.8" cy="407.0" r="1.2" fill="#2a2a2a"/>
<circle cx="312.4" cy="395.3" r="1.2" fill="#2a2a2a"/>
<circle cx="285.3" cy="401.3" r="1.2" fill="#b8b8b8"/>
<circle cx="316.8" cy="401.3" r="1.2" fill="#2a2a2a"/>
<circle cx="308.8" cy="394.5" r="1.2" fill="#2a2a2a"/>
<circle cx="371.3" cy="376.0" r="1.2" fill="#b8b8b8"/>
<circle cx="328.8" cy="388.7" r="1.2" fill="#b8b8b8"/>
<circle cx="282.5" cy="401.3" r="1.2" fill="#2a2a2a"/>
<circle cx="298.2" cy="383.5" r="1.2" fill="#2a2a2a"/>
<circle cx="329.1" cy="387.4" r="1.2" fill="#2a2a2a"/>
<circle cx="303.0" cy="398.8" r="1.2" fill="#b8b8b8"/>
<circle cx="338.2" cy="384.0" r="1.2" fill="#2a2a2a"/>
<circle cx="331.3" cy="382.7" r="1.2" fill="#2a2a2a"/>
<circle cx="340.0" cy="390.0" r="1.2" fill="#2a2a2a"/>
<circle cx="343.4" cy="367.4" r="1.2" fill="#2a2a2a"/>
<circle cx="339.9" cy="390.1" r="1.2" fill="#2a2a2a"/>
<circle cx="324.1" cy="395.6" r="1.2" fill="#b8b8b8"/>
<circle cx="328.7" cy="394.7" r="1.2" fill="#b8b8b8"/>
<circle cx="313.6" cy="380.9" r="1.2" fill="#2a2a2a"/>
<circle cx="314.2" cy="399.6" r="1.2" fill="#b8b8b8"/>
<circle cx="338.2" cy="385.6" r="1.2" fill="#2a2a2a"/>
<circle cx="338.2" cy="351.3" r="1.2" fill="#b8b8b8"/>
<circle cx="293.0" cy="406.0" r="1.2" fill="#b8b8b8"/>
<circle cx="321.6" cy="373.9" r="1.2" fill="#b8b8b8"/>
<circle cx="310.9" cy="397.9" r="1.2" fill="#b8b8b8"/>
<circle cx="333.1" cy="393.2" r="1.2" fill="#b8b8b8"/>
<circle cx="330.7" cy="394.1" r="1.2" fill="#b8b8b8"/>
<circle cx="313.9" cy="395.0" r="1.2" fill="#2a2a2a"/>
<circle cx="295.9" cy="392.1" r="1.2" fill="#b8b8b8"/>
<circle cx="337.7" cy="351.3" r="1.2" fill="#b8b8b8"/>
<circle cx="284.8" cy="395.6" r="1.2" fill="#2a2a2a"/>
<circle cx="306.8" cy="399.4" r="1.2" fill="#b8b8b8"/>
<circle cx="416.2" cy="357.5" r="1.2" fill="#2a2a2a"/>
<circle cx="342.4" cy="381.4" r="1.2" fill="#2a2a2a"/>
<circle cx="294.4" cy="393.4" r="1.2" fill="#b8b8b8"/>
<circle cx="306.1" cy="402.2" r="1.2" fill="#b8b8b8"/>
<circle cx="292.6" cy="388.4" r="1.2" fill="#2a2a2a"/>
<circle cx="318.4" cy="391.6" r="1.2" fill="#2a2a2a"/>
<circle cx="308.8" cy="392.7" r="1.2" fill="#2a2a2a"/>
<circle cx="331.3" cy="376.3" r="1.2" fill="#b8b8b8"/>
<circle cx="342.4" cy="387.0" r="1.2" fill="#b8b8b8"/>
<circle cx="281.9" cy="404.6" r="1.2" fill="#b8b8b8"/>
<circle cx="324.7" cy="389.5" r="1.2" fill="#2a2a2a"/>
<circle cx="305.2" cy="396.6" r="1.2" fill="#2a2a2a"/>
<circle cx="278.7" cy="394.6" r="1.2" fill="#2a2a2a"/>
<circle cx="326.3" cy="389.5" r="1.2" fill="#2a2a2a"/>
<circle cx="300.9" cy="398.8" r="1.2" fill="#2a2a2a"/>
<circle cx="282.9" cy="402.0" r="1.2" fill="#2a2a2a"/>
<circle cx="301.5" cy="371.5" r="1.2" fill="#2a2a2a"/>
<circle cx="431.0" cy="328.8" r="1.2" fill="#b8b8b8"/>
<circle cx="283.5" cy="401.9" r="1.2" fill="#2a2a2a"/>
<circle cx="333.2" cy="386.1" r="1.2" fill="#b8b8b8"/>
<circle cx="317.1" cy="392.9" r="1.2" fill="#2a2a2a"/>
<circle cx="308.0" cy="383.5" r="1.2" fill="#2a2a2a"/>
<circle cx="318.4" cy="394.5" r="1.2" fill="#b8b8b8"/>
<circle cx="303.6" cy="395.6" r="1.2" fill="#b8b8b8"/>
<circle cx="276.5" cy="398.0" r="1.2" fill="#b8b8b8"/>
<circle cx="302.7" cy="402.1" r="1.2" fill="#2a2a2a"/>
<circle cx="292.5" cy="405.8" r="1.2" fill="#b8b8b8"/>
<circle cx="301.1" cy="398.9" r="1.2" fill="#b8b8b8"/>
<circle cx="297.7" cy="396.4" r="1.2" fill="#b8b8b8"/>
<circle cx="281.4" cy="395.7" r="1.2" fill="#b8b8b8"/>
<circle cx="361.0" cy="384.3" r="1.2" fill="#b8b8b8"/>
<circle cx="277.9" cy="396.6" r="1.2" fill="#2a2a2a"/>
<circle cx="287.1" cy="399.4" r="1.2" fill="#b8b8b8"/>
<circle cx="289.2" cy="399.8" r="1.2" fill="#b8b8b8"/>
<circle cx="327.3" cy="388.4" r="1.2" fill="#2a2a2a"/>
<circle cx="289.4" cy="401.3" r="1.2" fill="#2a2a2a"/>
<circle cx="285.3" cy="394.8" r="1.2" fill="#2a2a2a"/>
<circle cx="319.8" cy="389.6" r="1.2" fill="#2a2a2a"/>
<circle cx="276.8" cy="407.4" r="1.2" fill="#2a2a2a"/>
<circle cx="295.8" cy="401.3" r="1.2" fill="#2a2a2a"/>
<circle cx="307.0" cy="401.3" r="1.2" fill="#2a2a2a"/>
<circle cx="316.4" cy="385.4" r="1.2" fill="#b8b8b8"/>
<circle cx="289.5" cy="400.3" r="1.2" fill="#b8b8b8"/>
<circle cx="339.9" cy="375.7" r="1.2" fill="#b8b8b8"/>
<circle cx="289.3" cy="402.5" r="1.2" fill="#b8b8b8"/>
<circle cx="299.8" cy="393.2" r="1.2" fill="#2a2a2a"/>
<circle cx="341.8" cy="371.5" r="1.2" fill="#2a2a2a"/>
<line x1="273" y1="406" x2="415.6" y2="346.4" stroke="#8a8a8a" stroke-width="0.6"/>
<line x1="273" y1="405" x2="502" y2="330.5" stroke="#cfcfcf" stroke-width="0.7"/>
<text x="390.3" y="342.0" font-family='"Liberation Sans", sans-serif' font-size="8.4" fill="#222" stroke="#222" stroke-width="0.15">R<tspan font-size="5.4" dy="-3.4">2</tspan><tspan dy="3.4"> = 0,618</tspan></text>
<text x="450.6" y="330.0" font-family='"Liberation Sans", sans-serif' font-size="8.4" fill="#222" stroke="#222" stroke-width="0.15">R<tspan font-size="5.4" dy="-3.4">2</tspan><tspan dy="3.4"> = 0,6341</tspan></text>
</svg><div class="frame"></div></body></html>
